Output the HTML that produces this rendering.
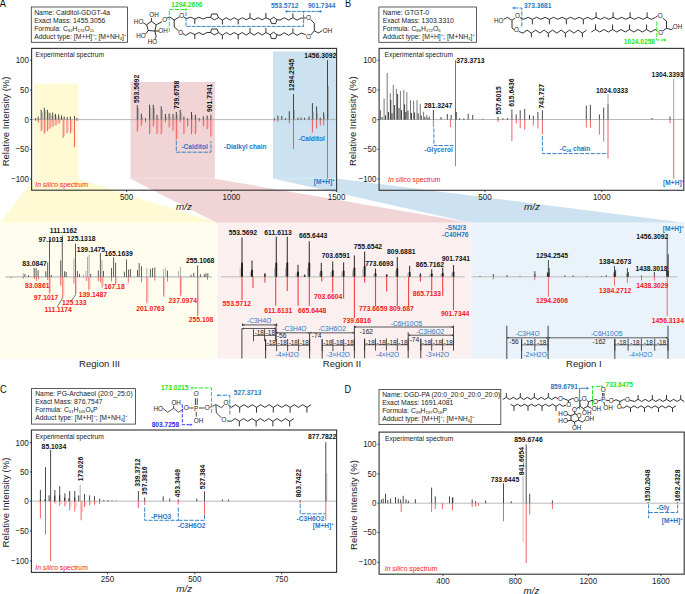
<!DOCTYPE html>
<html><head><meta charset="utf-8"><style>
html,body{margin:0;padding:0;background:#fff;}
svg{display:block;font-family:"Liberation Sans",sans-serif;}
</style></head><body>
<svg width="685" height="594" viewBox="0 0 685 594">
<rect x="0" y="0" width="685" height="594" fill="#ffffff"/>
<polygon points="34,178.8 78.1,178.8 216.7,222.7 0,222.7" fill="#fffad3"/>
<rect x="34" y="83.6" width="44.1" height="95.2" fill="#fffad3"/>
<polygon points="130.5,178.7 214.9,178.7 470.6,222.7 216.7,222.7" fill="#f1d4d6"/>
<rect x="130.5" y="81.9" width="84.4" height="96.8" fill="#f1d4d6"/>
<polygon points="273,178.5 336.6,178.5 685,222.7 470.6,222.7" fill="#cce2f1"/>
<rect x="273" y="51.4" width="63.6" height="127.1" fill="#cce2f1"/>
<rect x="0" y="222.7" width="216.1" height="135.9" fill="#fffdee"/>
<rect x="217.2" y="222.7" width="253.3" height="135.9" fill="#fbefef"/>
<rect x="471" y="222.7" width="214" height="136.2" fill="#ebf3fa"/>
<text x="0" y="0" transform="translate(-0.2 6.8) scale(1 1.28)" font-size="9.2" fill="#111">A</text>
<rect x="31.3" y="7" width="96.2" height="35.3" fill="white" stroke="#333" stroke-width="0.8"/>
<text x="34.2" y="15.2" font-size="6.8" fill="#1a1a1a">Name: Calditol-GDGT-4a</text>
<text x="34.2" y="23.05" font-size="6.8" fill="#1a1a1a">Exact Mass: 1455.3056</text>
<text x="34.2" y="30.9" font-size="6.8" fill="#1a1a1a">Formula: C<tspan font-size="4.2" baseline-shift="-1.3">92</tspan>H<tspan font-size="4.2" baseline-shift="-1.3">174</tspan>O<tspan font-size="4.2" baseline-shift="-1.3">11</tspan></text>
<text x="34.2" y="38.75" font-size="6.8" fill="#1a1a1a">Adduct type: [M+H]<tspan font-size="4.2" baseline-shift="2.6">+</tspan>; [M+NH<tspan font-size="4.2" baseline-shift="-1.3">4</tspan>]<tspan font-size="4.2" baseline-shift="2.6">+</tspan></text>
<polyline points="151.4,21.3 156.2,24.8 154.9,31 148.3,30.5 146.6,24.8 151.4,21.3" fill="none" stroke="#1c1c1c" stroke-width="0.9" stroke-linejoin="round"/>
<line x1="151.4" y1="21.3" x2="151.4" y2="18" stroke="#1c1c1c" stroke-width="0.9"/>
<text x="154" y="16.67" font-size="6.3" fill="#1a1a1a" text-anchor="middle">OH</text>
<line x1="146.6" y1="24.8" x2="143.3" y2="23" stroke="#1c1c1c" stroke-width="0.9"/>
<text x="138.6" y="24.07" font-size="6.3" fill="#1a1a1a" text-anchor="middle">HO</text>
<line x1="148.3" y1="30.5" x2="145.6" y2="34" stroke="#1c1c1c" stroke-width="0.9"/>
<text x="140.9" y="38.47" font-size="6.3" fill="#1a1a1a" text-anchor="middle">HO</text>
<line x1="154.9" y1="31" x2="159.2" y2="31" stroke="#1c1c1c" stroke-width="0.9"/>
<text x="163" y="32.77" font-size="6.3" fill="#1a1a1a" text-anchor="middle">OH</text>
<line x1="154.9" y1="31" x2="156.2" y2="36.7" stroke="#1c1c1c" stroke-width="0.9"/>
<line x1="156.2" y1="36.7" x2="155" y2="38.8" stroke="#1c1c1c" stroke-width="0.9"/>
<text x="152.4" y="44.17" font-size="6.3" fill="#1a1a1a" text-anchor="middle">HO</text>
<line x1="156.2" y1="24.8" x2="162" y2="21.6" stroke="#1c1c1c" stroke-width="0.9"/>
<text x="164.6" y="21.87" font-size="6.3" fill="#1a1a1a" text-anchor="middle">O</text>
<polyline points="166.8,18.2 169.8,17 174.2,20 179.2,17 179.6,16.8" fill="none" stroke="#1c1c1c" stroke-width="0.9" stroke-linejoin="round"/>
<polyline points="174.2,20 174.2,27 178.6,30.8" fill="none" stroke="#1c1c1c" stroke-width="0.9" stroke-linejoin="round"/>
<text x="181.6" y="17.87" font-size="6.3" fill="#1a1a1a" text-anchor="middle">O</text>
<text x="180.6" y="34.57" font-size="6.3" fill="#1a1a1a" text-anchor="middle">O</text>
<polyline points="183.6,16.8 186.2,18.7 190.6,17.2 194.8,19 198.9,17.2 203,19 207.1,17.4 210.8,17.4" fill="none" stroke="#1c1c1c" stroke-width="0.9" stroke-linejoin="round"/>
<line x1="194.8" y1="19" x2="194.8" y2="23.8" stroke="#1c1c1c" stroke-width="0.9"/>
<polyline points="211.6,14 217,14 218.5,17.6 214.4,19.9 210.6,17.4 211.6,14" fill="none" stroke="#1c1c1c" stroke-width="0.9" stroke-linejoin="round"/>
<polyline points="218.5,17.6 222.4,20.1 226.3,17.7 230.2,20.1 234.2,17.7 238.2,20.1 242.3,17.7 246.2,19.8 250,17.7 254.1,19.8 258.2,17.7 262.1,19.8 265.9,17.7 269.9,19.6" fill="none" stroke="#1c1c1c" stroke-width="0.9" stroke-linejoin="round"/>
<line x1="222.4" y1="20.1" x2="222.4" y2="24.4" stroke="#1c1c1c" stroke-width="0.9"/>
<line x1="238.2" y1="20.1" x2="238.2" y2="24.4" stroke="#1c1c1c" stroke-width="0.9"/>
<line x1="250" y1="17.7" x2="250" y2="13" stroke="#1c1c1c" stroke-width="0.9"/>
<line x1="265.9" y1="17.7" x2="265.9" y2="13" stroke="#1c1c1c" stroke-width="0.9"/>
<polyline points="273.6,17.2 277,19.7 275.7,23.6 271.5,23.6 270.1,19.7 273.6,17.2" fill="none" stroke="#1c1c1c" stroke-width="0.9" stroke-linejoin="round"/>
<polyline points="277,19.7 280,20.1 284.3,17.7 288.6,20.1 292.9,17.7 297.1,20.1 301.2,18 305.8,18" fill="none" stroke="#1c1c1c" stroke-width="0.9" stroke-linejoin="round"/>
<line x1="292.9" y1="17.7" x2="292.9" y2="13.4" stroke="#1c1c1c" stroke-width="0.9"/>
<text x="308.4" y="20.47" font-size="6.3" fill="#1a1a1a" text-anchor="middle">O</text>
<polyline points="182.6,33.4 185.7,35.4 190.3,32.5 194.8,34.6 198.9,32.5 203,34.6 207.1,32.5 210.8,32.5" fill="none" stroke="#1c1c1c" stroke-width="0.9" stroke-linejoin="round"/>
<line x1="194.8" y1="34.6" x2="194.8" y2="38.9" stroke="#1c1c1c" stroke-width="0.9"/>
<polyline points="211.6,29 217,29 218.5,32.6 214.4,34.9 210.6,32.5 211.6,29" fill="none" stroke="#1c1c1c" stroke-width="0.9" stroke-linejoin="round"/>
<polyline points="218.5,32.6 222.4,35.1 226.3,32.5 230.2,34.9 234.2,32.5 238.2,34.9 242.3,32.5 246.2,35.1 250,32.5 254.1,35.1 258.2,32.5 262.1,35.1 265.9,32.5 269.9,34.6" fill="none" stroke="#1c1c1c" stroke-width="0.9" stroke-linejoin="round"/>
<line x1="222.4" y1="35" x2="222.4" y2="39.3" stroke="#1c1c1c" stroke-width="0.9"/>
<line x1="238.2" y1="35" x2="238.2" y2="39.3" stroke="#1c1c1c" stroke-width="0.9"/>
<line x1="250" y1="32.5" x2="250" y2="27.9" stroke="#1c1c1c" stroke-width="0.9"/>
<line x1="265.9" y1="32.5" x2="265.9" y2="27.9" stroke="#1c1c1c" stroke-width="0.9"/>
<polyline points="273.6,32.2 277,34.7 275.7,38.6 271.5,38.6 270.1,34.7 273.6,32.2" fill="none" stroke="#1c1c1c" stroke-width="0.9" stroke-linejoin="round"/>
<polyline points="277,34.7 280,35.4 284.3,32.7 288.6,35.4 292.9,32.7 297.1,35.4 301.2,33 305.6,34.6" fill="none" stroke="#1c1c1c" stroke-width="0.9" stroke-linejoin="round"/>
<line x1="292.9" y1="32.7" x2="292.9" y2="28.4" stroke="#1c1c1c" stroke-width="0.9"/>
<text x="308.4" y="39.07" font-size="6.3" fill="#1a1a1a" text-anchor="middle">O</text>
<polyline points="310.6,19.6 314.3,23.2 314.3,30.8 310.8,35" fill="none" stroke="#1c1c1c" stroke-width="0.9" stroke-linejoin="round"/>
<polyline points="314.3,30.8 318.6,33 322.4,30.4" fill="none" stroke="#1c1c1c" stroke-width="0.9" stroke-linejoin="round"/>
<text x="327.6" y="33.27" font-size="6.3" fill="#1a1a1a" text-anchor="middle">OH</text>
<polyline points="169.3,31.8 169.3,9.5 185.6,9.5" fill="none" stroke="#18e818" stroke-width="0.95" stroke-linejoin="round" stroke-dasharray="4.2,1.4"/>
<polygon points="187.8,9.5 185.4,8.06 185.4,10.94" fill="#18e818"/>
<text x="171.3" y="7" font-size="6.6" fill="#18e818" font-weight="bold">1294.2606</text>
<polyline points="186,12.1 186,26.4 303.6,26.4 303.6,11.4" fill="none" stroke="#1f78c4" stroke-width="0.9" stroke-linejoin="round" stroke-dasharray="4,1.0"/>
<polyline points="287,11.4 320,11.4" fill="none" stroke="#1f78c4" stroke-width="0.9" stroke-linejoin="round" stroke-dasharray="4,0.9"/>
<polygon points="284.9,11.4 287.3,9.96 287.3,12.84" fill="#1f78c4"/>
<polygon points="322.2,11.4 319.8,9.96 319.8,12.84" fill="#1f78c4"/>
<text x="270.9" y="8.4" font-size="6.6" fill="#1f78c4" font-weight="bold">553.5712</text>
<text x="307.9" y="8.4" font-size="6.6" fill="#1f78c4" font-weight="bold">901.7344</text>
<line x1="31.6" y1="119.6" x2="336.6" y2="119.6" stroke="#a8a8a8" stroke-width="0.8"/>
<text x="35.6" y="56.8" font-size="6.7" fill="#1a1a1a">Experimental spectrum</text>
<text x="35.3" y="186.8" font-size="6.8" fill="#f81818"><tspan font-style="italic">In silico</tspan> spectrum</text>
<line x1="35.6" y1="119.6" x2="35.6" y2="118" stroke="#1c1c1c" stroke-width="0.8"/>
<line x1="38.2" y1="119.6" x2="38.2" y2="116.7" stroke="#1c1c1c" stroke-width="0.8"/>
<line x1="41.2" y1="119.6" x2="41.2" y2="109.8" stroke="#1c1c1c" stroke-width="0.8"/>
<line x1="44.3" y1="119.6" x2="44.3" y2="107.8" stroke="#1c1c1c" stroke-width="0.8"/>
<line x1="47.4" y1="119.6" x2="47.4" y2="109.8" stroke="#1c1c1c" stroke-width="0.8"/>
<line x1="49.9" y1="119.6" x2="49.9" y2="112.9" stroke="#1c1c1c" stroke-width="0.8"/>
<line x1="52.7" y1="119.6" x2="52.7" y2="112.6" stroke="#1c1c1c" stroke-width="0.8"/>
<line x1="55.5" y1="119.6" x2="55.5" y2="113.9" stroke="#1c1c1c" stroke-width="0.8"/>
<line x1="58.6" y1="119.6" x2="58.6" y2="114.4" stroke="#1c1c1c" stroke-width="0.8"/>
<line x1="61.5" y1="119.6" x2="61.5" y2="115.4" stroke="#1c1c1c" stroke-width="0.8"/>
<line x1="64.2" y1="119.6" x2="64.2" y2="116.5" stroke="#1c1c1c" stroke-width="0.8"/>
<line x1="67.3" y1="119.6" x2="67.3" y2="117" stroke="#1c1c1c" stroke-width="0.8"/>
<line x1="70.4" y1="119.6" x2="70.4" y2="116.5" stroke="#1c1c1c" stroke-width="0.8"/>
<line x1="74.5" y1="119.6" x2="74.5" y2="116" stroke="#1c1c1c" stroke-width="0.8"/>
<line x1="77" y1="119.6" x2="77" y2="118" stroke="#1c1c1c" stroke-width="0.8"/>
<line x1="39.5" y1="119.6" x2="39.5" y2="119.2" stroke="#9a9a9a" stroke-width="0.7"/>
<line x1="42.5" y1="119.6" x2="42.5" y2="112.3" stroke="#9a9a9a" stroke-width="0.7"/>
<line x1="45.6" y1="119.6" x2="45.6" y2="110.3" stroke="#9a9a9a" stroke-width="0.7"/>
<line x1="48.7" y1="119.6" x2="48.7" y2="112.3" stroke="#9a9a9a" stroke-width="0.7"/>
<line x1="51.2" y1="119.6" x2="51.2" y2="115.4" stroke="#9a9a9a" stroke-width="0.7"/>
<line x1="54" y1="119.6" x2="54" y2="115.1" stroke="#9a9a9a" stroke-width="0.7"/>
<line x1="56.8" y1="119.6" x2="56.8" y2="116.4" stroke="#9a9a9a" stroke-width="0.7"/>
<line x1="59.9" y1="119.6" x2="59.9" y2="116.9" stroke="#9a9a9a" stroke-width="0.7"/>
<line x1="62.8" y1="119.6" x2="62.8" y2="117.9" stroke="#9a9a9a" stroke-width="0.7"/>
<line x1="65.5" y1="119.6" x2="65.5" y2="119" stroke="#9a9a9a" stroke-width="0.7"/>
<line x1="68.6" y1="119.6" x2="68.6" y2="119.5" stroke="#9a9a9a" stroke-width="0.7"/>
<line x1="71.7" y1="119.6" x2="71.7" y2="119" stroke="#9a9a9a" stroke-width="0.7"/>
<line x1="75.8" y1="119.6" x2="75.8" y2="118.5" stroke="#9a9a9a" stroke-width="0.7"/>
<line x1="78.3" y1="119.6" x2="78.3" y2="120.5" stroke="#9a9a9a" stroke-width="0.7"/>
<line x1="35.6" y1="119.6" x2="35.6" y2="120.8" stroke="#ee3b3b" stroke-width="0.8"/>
<line x1="38.2" y1="119.6" x2="38.2" y2="122.6" stroke="#ee3b3b" stroke-width="0.8"/>
<line x1="41.2" y1="119.6" x2="41.2" y2="131.3" stroke="#ee3b3b" stroke-width="0.8"/>
<line x1="44.3" y1="119.6" x2="44.3" y2="133.8" stroke="#ee3b3b" stroke-width="0.8"/>
<line x1="47.4" y1="119.6" x2="47.4" y2="131.3" stroke="#ee3b3b" stroke-width="0.8"/>
<line x1="50.1" y1="119.6" x2="50.1" y2="128.7" stroke="#ee3b3b" stroke-width="0.8"/>
<line x1="53" y1="119.6" x2="53" y2="126.7" stroke="#ee3b3b" stroke-width="0.8"/>
<line x1="56" y1="119.6" x2="56" y2="125.7" stroke="#ee3b3b" stroke-width="0.8"/>
<line x1="59.1" y1="119.6" x2="59.1" y2="123.6" stroke="#ee3b3b" stroke-width="0.8"/>
<line x1="63.2" y1="119.6" x2="63.2" y2="137.9" stroke="#ee3b3b" stroke-width="0.8"/>
<line x1="67" y1="119.6" x2="67" y2="133.3" stroke="#ee3b3b" stroke-width="0.8"/>
<line x1="70.6" y1="119.6" x2="70.6" y2="133.3" stroke="#ee3b3b" stroke-width="0.8"/>
<line x1="74.5" y1="119.6" x2="74.5" y2="147.1" stroke="#ee3b3b" stroke-width="0.8"/>
<line x1="76.8" y1="119.6" x2="76.8" y2="120.8" stroke="#ee3b3b" stroke-width="0.8"/>
<line x1="42.4" y1="119.6" x2="42.4" y2="129.8" stroke="#f6a3a3" stroke-width="0.7"/>
<line x1="45.5" y1="119.6" x2="45.5" y2="132.3" stroke="#f6a3a3" stroke-width="0.7"/>
<line x1="48.6" y1="119.6" x2="48.6" y2="129.8" stroke="#f6a3a3" stroke-width="0.7"/>
<line x1="51.3" y1="119.6" x2="51.3" y2="127.2" stroke="#f6a3a3" stroke-width="0.7"/>
<line x1="54.2" y1="119.6" x2="54.2" y2="125.2" stroke="#f6a3a3" stroke-width="0.7"/>
<line x1="57.2" y1="119.6" x2="57.2" y2="124.2" stroke="#f6a3a3" stroke-width="0.7"/>
<line x1="60.3" y1="119.6" x2="60.3" y2="122.1" stroke="#f6a3a3" stroke-width="0.7"/>
<line x1="64.4" y1="119.6" x2="64.4" y2="136.4" stroke="#f6a3a3" stroke-width="0.7"/>
<line x1="68.2" y1="119.6" x2="68.2" y2="131.8" stroke="#f6a3a3" stroke-width="0.7"/>
<line x1="71.8" y1="119.6" x2="71.8" y2="131.8" stroke="#f6a3a3" stroke-width="0.7"/>
<line x1="82" y1="119.6" x2="82" y2="118.8" stroke="#9a9a9a" stroke-width="0.6"/>
<line x1="86" y1="119.6" x2="86" y2="118.8" stroke="#9a9a9a" stroke-width="0.6"/>
<line x1="90" y1="119.6" x2="90" y2="118.8" stroke="#9a9a9a" stroke-width="0.6"/>
<line x1="95" y1="119.6" x2="95" y2="118.8" stroke="#9a9a9a" stroke-width="0.6"/>
<line x1="100" y1="119.6" x2="100" y2="118.8" stroke="#9a9a9a" stroke-width="0.6"/>
<line x1="117" y1="119.6" x2="117" y2="118.8" stroke="#9a9a9a" stroke-width="0.6"/>
<line x1="121" y1="119.6" x2="121" y2="118.8" stroke="#9a9a9a" stroke-width="0.6"/>
<line x1="125" y1="119.6" x2="125" y2="118.8" stroke="#9a9a9a" stroke-width="0.6"/>
<line x1="137.3" y1="119.6" x2="137.3" y2="105.2" stroke="#1c1c1c" stroke-width="0.8"/>
<line x1="141.3" y1="119.6" x2="141.3" y2="113.6" stroke="#1c1c1c" stroke-width="0.8"/>
<line x1="145.5" y1="119.6" x2="145.5" y2="118.2" stroke="#1c1c1c" stroke-width="0.8"/>
<line x1="149.6" y1="119.6" x2="149.6" y2="104.7" stroke="#1c1c1c" stroke-width="0.8"/>
<line x1="153.3" y1="119.6" x2="153.3" y2="104.7" stroke="#1c1c1c" stroke-width="0.8"/>
<line x1="157" y1="119.6" x2="157" y2="114.8" stroke="#1c1c1c" stroke-width="0.8"/>
<line x1="161.2" y1="119.6" x2="161.2" y2="106.4" stroke="#1c1c1c" stroke-width="0.8"/>
<line x1="165.4" y1="119.6" x2="165.4" y2="114" stroke="#1c1c1c" stroke-width="0.8"/>
<line x1="169.1" y1="119.6" x2="169.1" y2="113.6" stroke="#1c1c1c" stroke-width="0.8"/>
<line x1="173" y1="119.6" x2="173" y2="114" stroke="#1c1c1c" stroke-width="0.8"/>
<line x1="176.3" y1="119.6" x2="176.3" y2="112" stroke="#1c1c1c" stroke-width="0.8"/>
<line x1="180.2" y1="119.6" x2="180.2" y2="109.8" stroke="#1c1c1c" stroke-width="0.8"/>
<line x1="183.9" y1="119.6" x2="183.9" y2="116.5" stroke="#1c1c1c" stroke-width="0.8"/>
<line x1="187.6" y1="119.6" x2="187.6" y2="118.2" stroke="#1c1c1c" stroke-width="0.8"/>
<line x1="191.5" y1="119.6" x2="191.5" y2="112" stroke="#1c1c1c" stroke-width="0.8"/>
<line x1="195.4" y1="119.6" x2="195.4" y2="114.8" stroke="#1c1c1c" stroke-width="0.8"/>
<line x1="199.4" y1="119.6" x2="199.4" y2="118.2" stroke="#1c1c1c" stroke-width="0.8"/>
<line x1="203.3" y1="119.6" x2="203.3" y2="116.5" stroke="#1c1c1c" stroke-width="0.8"/>
<line x1="207.2" y1="119.6" x2="207.2" y2="115.7" stroke="#1c1c1c" stroke-width="0.8"/>
<line x1="210.9" y1="119.6" x2="210.9" y2="114.8" stroke="#1c1c1c" stroke-width="0.8"/>
<line x1="138.5" y1="119.6" x2="138.5" y2="108.2" stroke="#9a9a9a" stroke-width="0.7"/>
<line x1="142.5" y1="119.6" x2="142.5" y2="116.6" stroke="#9a9a9a" stroke-width="0.7"/>
<line x1="150.8" y1="119.6" x2="150.8" y2="107.7" stroke="#9a9a9a" stroke-width="0.7"/>
<line x1="154.5" y1="119.6" x2="154.5" y2="107.7" stroke="#9a9a9a" stroke-width="0.7"/>
<line x1="158.2" y1="119.6" x2="158.2" y2="117.8" stroke="#9a9a9a" stroke-width="0.7"/>
<line x1="162.4" y1="119.6" x2="162.4" y2="109.4" stroke="#9a9a9a" stroke-width="0.7"/>
<line x1="166.6" y1="119.6" x2="166.6" y2="117" stroke="#9a9a9a" stroke-width="0.7"/>
<line x1="170.3" y1="119.6" x2="170.3" y2="116.6" stroke="#9a9a9a" stroke-width="0.7"/>
<line x1="174.2" y1="119.6" x2="174.2" y2="117" stroke="#9a9a9a" stroke-width="0.7"/>
<line x1="177.5" y1="119.6" x2="177.5" y2="115" stroke="#9a9a9a" stroke-width="0.7"/>
<line x1="181.4" y1="119.6" x2="181.4" y2="112.8" stroke="#9a9a9a" stroke-width="0.7"/>
<line x1="192.7" y1="119.6" x2="192.7" y2="115" stroke="#9a9a9a" stroke-width="0.7"/>
<line x1="196.6" y1="119.6" x2="196.6" y2="117.8" stroke="#9a9a9a" stroke-width="0.7"/>
<line x1="208.4" y1="119.6" x2="208.4" y2="118.7" stroke="#9a9a9a" stroke-width="0.7"/>
<line x1="212.1" y1="119.6" x2="212.1" y2="117.8" stroke="#9a9a9a" stroke-width="0.7"/>
<line x1="137.3" y1="119.6" x2="137.3" y2="131.6" stroke="#ee3b3b" stroke-width="0.8"/>
<line x1="141.3" y1="119.6" x2="141.3" y2="125.8" stroke="#ee3b3b" stroke-width="0.8"/>
<line x1="145.5" y1="119.6" x2="145.5" y2="122.4" stroke="#ee3b3b" stroke-width="0.8"/>
<line x1="149.6" y1="119.6" x2="149.6" y2="134.2" stroke="#ee3b3b" stroke-width="0.8"/>
<line x1="153.3" y1="119.6" x2="153.3" y2="126.6" stroke="#ee3b3b" stroke-width="0.8"/>
<line x1="157" y1="119.6" x2="157" y2="134.2" stroke="#ee3b3b" stroke-width="0.8"/>
<line x1="161.2" y1="119.6" x2="161.2" y2="134.2" stroke="#ee3b3b" stroke-width="0.8"/>
<line x1="165.4" y1="119.6" x2="165.4" y2="122.4" stroke="#ee3b3b" stroke-width="0.8"/>
<line x1="169.1" y1="119.6" x2="169.1" y2="127.4" stroke="#ee3b3b" stroke-width="0.8"/>
<line x1="173" y1="119.6" x2="173" y2="130.8" stroke="#ee3b3b" stroke-width="0.8"/>
<line x1="176.3" y1="119.6" x2="176.3" y2="140" stroke="#ee3b3b" stroke-width="0.8"/>
<line x1="180.2" y1="119.6" x2="180.2" y2="122.4" stroke="#ee3b3b" stroke-width="0.8"/>
<line x1="183.9" y1="119.6" x2="183.9" y2="134.2" stroke="#ee3b3b" stroke-width="0.8"/>
<line x1="187.6" y1="119.6" x2="187.6" y2="126.6" stroke="#ee3b3b" stroke-width="0.8"/>
<line x1="191.5" y1="119.6" x2="191.5" y2="134.2" stroke="#ee3b3b" stroke-width="0.8"/>
<line x1="195.4" y1="119.6" x2="195.4" y2="134.2" stroke="#ee3b3b" stroke-width="0.8"/>
<line x1="199.4" y1="119.6" x2="199.4" y2="121.5" stroke="#ee3b3b" stroke-width="0.8"/>
<line x1="203.3" y1="119.6" x2="203.3" y2="126.6" stroke="#ee3b3b" stroke-width="0.8"/>
<line x1="207.2" y1="119.6" x2="207.2" y2="129.1" stroke="#ee3b3b" stroke-width="0.8"/>
<line x1="210.9" y1="119.6" x2="210.9" y2="136.7" stroke="#ee3b3b" stroke-width="0.8"/>
<line x1="138.5" y1="119.6" x2="138.5" y2="129.6" stroke="#f6a3a3" stroke-width="0.7"/>
<line x1="142.5" y1="119.6" x2="142.5" y2="123.8" stroke="#f6a3a3" stroke-width="0.7"/>
<line x1="150.8" y1="119.6" x2="150.8" y2="132.2" stroke="#f6a3a3" stroke-width="0.7"/>
<line x1="154.5" y1="119.6" x2="154.5" y2="124.6" stroke="#f6a3a3" stroke-width="0.7"/>
<line x1="158.2" y1="119.6" x2="158.2" y2="132.2" stroke="#f6a3a3" stroke-width="0.7"/>
<line x1="162.4" y1="119.6" x2="162.4" y2="132.2" stroke="#f6a3a3" stroke-width="0.7"/>
<line x1="170.3" y1="119.6" x2="170.3" y2="125.4" stroke="#f6a3a3" stroke-width="0.7"/>
<line x1="174.2" y1="119.6" x2="174.2" y2="128.8" stroke="#f6a3a3" stroke-width="0.7"/>
<line x1="177.5" y1="119.6" x2="177.5" y2="138" stroke="#f6a3a3" stroke-width="0.7"/>
<line x1="185.1" y1="119.6" x2="185.1" y2="132.2" stroke="#f6a3a3" stroke-width="0.7"/>
<line x1="188.8" y1="119.6" x2="188.8" y2="124.6" stroke="#f6a3a3" stroke-width="0.7"/>
<line x1="192.7" y1="119.6" x2="192.7" y2="132.2" stroke="#f6a3a3" stroke-width="0.7"/>
<line x1="196.6" y1="119.6" x2="196.6" y2="132.2" stroke="#f6a3a3" stroke-width="0.7"/>
<line x1="204.5" y1="119.6" x2="204.5" y2="124.6" stroke="#f6a3a3" stroke-width="0.7"/>
<line x1="208.4" y1="119.6" x2="208.4" y2="127.1" stroke="#f6a3a3" stroke-width="0.7"/>
<line x1="212.1" y1="119.6" x2="212.1" y2="134.7" stroke="#f6a3a3" stroke-width="0.7"/>
<line x1="224" y1="119.6" x2="224" y2="118.9" stroke="#9a9a9a" stroke-width="0.6"/>
<line x1="228" y1="119.6" x2="228" y2="118.9" stroke="#9a9a9a" stroke-width="0.6"/>
<line x1="250" y1="119.6" x2="250" y2="118.9" stroke="#9a9a9a" stroke-width="0.6"/>
<line x1="256" y1="119.6" x2="256" y2="118.9" stroke="#9a9a9a" stroke-width="0.6"/>
<line x1="262" y1="119.6" x2="262" y2="118.9" stroke="#9a9a9a" stroke-width="0.6"/>
<line x1="274.5" y1="119.6" x2="274.5" y2="118.2" stroke="#1c1c1c" stroke-width="0.8"/>
<line x1="277.9" y1="119.6" x2="277.9" y2="115.7" stroke="#1c1c1c" stroke-width="0.8"/>
<line x1="281.8" y1="119.6" x2="281.8" y2="116" stroke="#1c1c1c" stroke-width="0.8"/>
<line x1="285.5" y1="119.6" x2="285.5" y2="118.2" stroke="#1c1c1c" stroke-width="0.8"/>
<line x1="289.3" y1="119.6" x2="289.3" y2="111.2" stroke="#1c1c1c" stroke-width="0.8"/>
<line x1="293.5" y1="119.6" x2="293.5" y2="94.2" stroke="#1c1c1c" stroke-width="0.8"/>
<line x1="298" y1="119.6" x2="298" y2="117.7" stroke="#1c1c1c" stroke-width="0.8"/>
<line x1="301" y1="119.6" x2="301" y2="117.7" stroke="#1c1c1c" stroke-width="0.8"/>
<line x1="304.5" y1="119.6" x2="304.5" y2="117.7" stroke="#1c1c1c" stroke-width="0.8"/>
<line x1="309" y1="119.6" x2="309" y2="116.5" stroke="#1c1c1c" stroke-width="0.8"/>
<line x1="312.4" y1="119.6" x2="312.4" y2="103.1" stroke="#1c1c1c" stroke-width="0.8"/>
<line x1="316.6" y1="119.6" x2="316.6" y2="106.4" stroke="#1c1c1c" stroke-width="0.8"/>
<line x1="320.3" y1="119.6" x2="320.3" y2="117.7" stroke="#1c1c1c" stroke-width="0.8"/>
<line x1="323.7" y1="119.6" x2="323.7" y2="112.3" stroke="#1c1c1c" stroke-width="0.8"/>
<line x1="327.5" y1="119.6" x2="327.5" y2="60.2" stroke="#1c1c1c" stroke-width="0.8"/>
<line x1="328.4" y1="119.6" x2="328.4" y2="86.2" stroke="#9a9a9a" stroke-width="0.8"/>
<line x1="294.4" y1="119.6" x2="294.4" y2="110" stroke="#9a9a9a" stroke-width="0.8"/>
<line x1="313.3" y1="119.6" x2="313.3" y2="112" stroke="#9a9a9a" stroke-width="0.8"/>
<line x1="317.4" y1="119.6" x2="317.4" y2="113" stroke="#9a9a9a" stroke-width="0.8"/>
<line x1="324.5" y1="119.6" x2="324.5" y2="115" stroke="#9a9a9a" stroke-width="0.8"/>
<line x1="274.5" y1="119.6" x2="274.5" y2="120.8" stroke="#ee3b3b" stroke-width="0.8"/>
<line x1="277.9" y1="119.6" x2="277.9" y2="121.6" stroke="#ee3b3b" stroke-width="0.8"/>
<line x1="289.3" y1="119.6" x2="289.3" y2="123.3" stroke="#ee3b3b" stroke-width="0.8"/>
<line x1="293.5" y1="119.6" x2="293.5" y2="149" stroke="#ee3b3b" stroke-width="0.8"/>
<line x1="312.4" y1="119.6" x2="312.4" y2="132.5" stroke="#ee3b3b" stroke-width="0.8"/>
<line x1="316.6" y1="119.6" x2="316.6" y2="128.3" stroke="#ee3b3b" stroke-width="0.8"/>
<line x1="320.3" y1="119.6" x2="320.3" y2="125.5" stroke="#ee3b3b" stroke-width="0.8"/>
<line x1="323.7" y1="119.6" x2="323.7" y2="125.5" stroke="#ee3b3b" stroke-width="0.8"/>
<line x1="327.5" y1="119.6" x2="327.5" y2="178.7" stroke="#ee3b3b" stroke-width="0.8"/>
<text x="139.3" y="103.1" font-size="6.8" fill="#111" font-weight="bold" transform="rotate(-90 139.3 103.1)">553.5692</text>
<text x="178.7" y="109" font-size="6.8" fill="#111" font-weight="bold" transform="rotate(-90 178.7 109)">739.6758</text>
<text x="212.1" y="112" font-size="6.8" fill="#111" font-weight="bold" transform="rotate(-90 212.1 112)">901.7341</text>
<text x="294.1" y="90.9" font-size="6.8" fill="#111" font-weight="bold" transform="rotate(-90 294.1 90.9)">1294.2545</text>
<text x="336.4" y="58.2" font-size="6.8" fill="#111" font-weight="bold" text-anchor="end">1456.3092</text>
<text x="311.6" y="140.5" font-size="6.6" fill="#1f78c4" font-weight="bold" text-anchor="middle">-Calditol</text>
<text x="245.3" y="149.2" font-size="6.6" fill="#1f78c4" font-weight="bold" text-anchor="middle">-Dialkyl chain</text>
<text x="194.6" y="149.4" font-size="6.6" fill="#1f78c4" font-weight="bold" text-anchor="middle">-Calditol</text>
<polyline points="176.3,141 176.3,152.2 211,152.2 211,141" fill="none" stroke="#1f78c4" stroke-width="0.9" stroke-linejoin="round" stroke-dasharray="4.2,1.3"/>
<text x="324.2" y="184.4" font-size="6.6" fill="#1f78c4" font-weight="bold" text-anchor="middle">[M+H]<tspan font-size="4.2" baseline-shift="2.6">+</tspan></text>
<rect x="31.6" y="48.4" width="305" height="141.8" fill="none" stroke="#383838" stroke-width="1.15"/>
<line x1="30" y1="60.3" x2="31.6" y2="60.3" stroke="#1c1c1c" stroke-width="0.8"/>
<text x="0" y="0" transform="translate(29 63.2) scale(1 1.15)" font-size="8" fill="#222" text-anchor="end">100</text>
<line x1="30" y1="90" x2="31.6" y2="90" stroke="#1c1c1c" stroke-width="0.8"/>
<text x="0" y="0" transform="translate(29 92.9) scale(1 1.15)" font-size="8" fill="#222" text-anchor="end">50</text>
<line x1="30" y1="119.6" x2="31.6" y2="119.6" stroke="#1c1c1c" stroke-width="0.8"/>
<text x="0" y="0" transform="translate(29 122.5) scale(1 1.15)" font-size="8" fill="#222" text-anchor="end">0</text>
<line x1="30" y1="149.3" x2="31.6" y2="149.3" stroke="#1c1c1c" stroke-width="0.8"/>
<text x="0" y="0" transform="translate(29 152.2) scale(1 1.15)" font-size="8" fill="#222" text-anchor="end">−50</text>
<line x1="30" y1="179" x2="31.6" y2="179" stroke="#1c1c1c" stroke-width="0.8"/>
<text x="0" y="0" transform="translate(29 181.9) scale(1 1.15)" font-size="8" fill="#222" text-anchor="end">−100</text>
<line x1="126.6" y1="190.2" x2="126.6" y2="192" stroke="#1c1c1c" stroke-width="0.8"/>
<text x="0" y="0" transform="translate(126.6 200) scale(1 1.15)" font-size="8" fill="#222" text-anchor="middle">500</text>
<line x1="231.4" y1="190.2" x2="231.4" y2="192" stroke="#1c1c1c" stroke-width="0.8"/>
<text x="0" y="0" transform="translate(231.4 200) scale(1 1.15)" font-size="8" fill="#222" text-anchor="middle">1000</text>
<line x1="336.6" y1="190.2" x2="336.6" y2="192" stroke="#1c1c1c" stroke-width="0.8"/>
<text x="0" y="0" transform="translate(336.6 200) scale(1 1.15)" font-size="8" fill="#222" text-anchor="middle">1500</text>
<text x="184" y="209.6" font-size="9.8" fill="#222" text-anchor="middle" font-style="italic">m/z</text>
<text x="9" y="121.4" font-size="9.5" fill="#222" text-anchor="middle" transform="rotate(-90 9 121.4)">Relative Intensity (%)</text>
<text x="0" y="0" transform="translate(345 6.9) scale(1 1.28)" font-size="9.2" fill="#111">B</text>
<rect x="378.9" y="7" width="97.6" height="35.3" fill="white" stroke="#333" stroke-width="0.8"/>
<text x="382.7" y="15.2" font-size="6.8" fill="#1a1a1a">Name: GTGT-0</text>
<text x="382.7" y="23.05" font-size="6.8" fill="#1a1a1a">Exact Mass: 1303.3310</text>
<text x="382.7" y="30.9" font-size="6.8" fill="#1a1a1a">Formula: C<tspan font-size="4.2" baseline-shift="-1.3">86</tspan>H<tspan font-size="4.2" baseline-shift="-1.3">172</tspan>O<tspan font-size="4.2" baseline-shift="-1.3">6</tspan></text>
<text x="382.7" y="38.75" font-size="6.8" fill="#1a1a1a">Adduct type: [M+H]<tspan font-size="4.2" baseline-shift="2.6">+</tspan>; [M+NH<tspan font-size="4.2" baseline-shift="-1.3">4</tspan>]<tspan font-size="4.2" baseline-shift="2.6">+</tspan></text>
<text x="498.7" y="22.57" font-size="6.3" fill="#1a1a1a" text-anchor="middle">HO</text>
<polyline points="503.6,19.4 507.4,17.3 512,20.3 515.2,18" fill="none" stroke="#1c1c1c" stroke-width="0.9" stroke-linejoin="round"/>
<polyline points="512,20.3 512,28 514.4,29.8" fill="none" stroke="#1c1c1c" stroke-width="0.9" stroke-linejoin="round"/>
<text x="517.4" y="18.07" font-size="6.3" fill="#1a1a1a" text-anchor="middle">O</text>
<text x="516.4" y="32.47" font-size="6.3" fill="#1a1a1a" text-anchor="middle">O</text>
<polyline points="519.8,17.6 523.85,19.3 528.1,17.3 532.35,19.3 536.6,17.3 540.85,19.3 545.1,17.3 549.35,19.3 553.6,17.3 557.85,19.3 562.1,17.3 566.35,19.3 570.6,17.3 574.85,19.3 579.1,17.3 583.35,19.3 587.6,17.3 591.85,19.3 596.1,17.3 600.35,19.3 604.6,17.3 608.85,19.3 613.1,17.3 617.35,19.3 621.6,17.3 625.85,19.3 630.1,17.3 634.35,19.3 638.6,17.3 642.85,19.3 647.1,17.3 651.35,19.3 655.6,17.3 657.6,15.8" fill="none" stroke="#1c1c1c" stroke-width="0.9" stroke-linejoin="round"/>
<line x1="532.35" y1="19.3" x2="532.35" y2="24.3" stroke="#1c1c1c" stroke-width="0.9"/>
<line x1="549.35" y1="19.3" x2="549.35" y2="24.3" stroke="#1c1c1c" stroke-width="0.9"/>
<line x1="566.35" y1="19.3" x2="566.35" y2="24.3" stroke="#1c1c1c" stroke-width="0.9"/>
<line x1="583.35" y1="19.3" x2="583.35" y2="24.3" stroke="#1c1c1c" stroke-width="0.9"/>
<line x1="596.1" y1="17.3" x2="596.1" y2="12.3" stroke="#1c1c1c" stroke-width="0.9"/>
<line x1="613.1" y1="17.3" x2="613.1" y2="12.3" stroke="#1c1c1c" stroke-width="0.9"/>
<line x1="630.1" y1="17.3" x2="630.1" y2="12.3" stroke="#1c1c1c" stroke-width="0.9"/>
<line x1="647.1" y1="17.3" x2="647.1" y2="12.3" stroke="#1c1c1c" stroke-width="0.9"/>
<polyline points="518.8,31.4 522.85,33.1 527.1,30.1 531.35,33.1 535.6,30.1 539.85,33.1 544.1,30.1 548.35,33.1 552.6,30.1 556.85,33.1 561.1,30.1 565.35,33.1 569.6,30.1 573.85,33.1 578.1,30.1 582.35,33.1 586.6,30.1" fill="none" stroke="#1c1c1c" stroke-width="0.9" stroke-linejoin="round"/>
<line x1="531.35" y1="33.1" x2="531.35" y2="37.3" stroke="#1c1c1c" stroke-width="0.9"/>
<line x1="548.35" y1="33.1" x2="548.35" y2="37.3" stroke="#1c1c1c" stroke-width="0.9"/>
<line x1="565.35" y1="33.1" x2="565.35" y2="37.3" stroke="#1c1c1c" stroke-width="0.9"/>
<line x1="582.35" y1="33.1" x2="582.35" y2="37.3" stroke="#1c1c1c" stroke-width="0.9"/>
<polyline points="591.3,32 595.55,29.5 599.8,32 604.05,29.5 608.3,32 612.55,29.5 616.8,32 621.05,29.5 625.3,32 629.55,29.5 633.8,32 638.05,29.5 642.3,32 646.55,29.5 650.8,32 655.05,29.5 657.6,31.2" fill="none" stroke="#1c1c1c" stroke-width="0.9" stroke-linejoin="round"/>
<line x1="595.55" y1="29.5" x2="595.55" y2="24.5" stroke="#1c1c1c" stroke-width="0.9"/>
<line x1="612.55" y1="29.5" x2="612.55" y2="24.5" stroke="#1c1c1c" stroke-width="0.9"/>
<line x1="629.55" y1="29.5" x2="629.55" y2="24.5" stroke="#1c1c1c" stroke-width="0.9"/>
<line x1="646.55" y1="29.5" x2="646.55" y2="24.5" stroke="#1c1c1c" stroke-width="0.9"/>
<text x="660.3" y="18.37" font-size="6.3" fill="#1a1a1a" text-anchor="middle">O</text>
<text x="660.6" y="34.77" font-size="6.3" fill="#1a1a1a" text-anchor="middle">O</text>
<polyline points="662.7,18.2 666.5,21.1 666.5,28.2 663,30.8" fill="none" stroke="#1c1c1c" stroke-width="0.9" stroke-linejoin="round"/>
<polyline points="666.5,28.2 671.2,29.6 673,28.4" fill="none" stroke="#1c1c1c" stroke-width="0.9" stroke-linejoin="round"/>
<text x="677.6" y="29.27" font-size="6.3" fill="#1a1a1a" text-anchor="middle">OH</text>
<polyline points="521.8,26.5 521.8,8 514.6,8" fill="none" stroke="#1f78c4" stroke-width="0.9" stroke-linejoin="round" stroke-dasharray="4.2,1.3"/>
<polygon points="512.2,8 514.6,6.56 514.6,9.44" fill="#1f78c4"/>
<text x="523.9" y="8.4" font-size="6.6" fill="#1f78c4" font-weight="bold">373.3681</text>
<polyline points="656.8,21.6 656.8,40 664.2,40" fill="none" stroke="#18e818" stroke-width="0.95" stroke-linejoin="round" stroke-dasharray="4.2,1.4"/>
<polygon points="666.5,40 664.1,38.56 664.1,41.44" fill="#18e818"/>
<text x="623.8" y="44.3" font-size="6.6" fill="#18e818" font-weight="bold">1024.0258</text>
<line x1="379.1" y1="119.5" x2="683.8" y2="119.5" stroke="#a8a8a8" stroke-width="0.8"/>
<text x="384.6" y="56.8" font-size="6.7" fill="#1a1a1a">Experimental spectrum</text>
<text x="388" y="182" font-size="6.8" fill="#f81818"><tspan font-style="italic">In silico</tspan> spectrum</text>
<line x1="380.5" y1="119.5" x2="380.5" y2="110" stroke="#555" stroke-width="0.8"/>
<line x1="384.1" y1="119.5" x2="384.1" y2="98.6" stroke="#555" stroke-width="0.8"/>
<line x1="387.2" y1="119.5" x2="387.2" y2="72.9" stroke="#555" stroke-width="0.8"/>
<line x1="390.3" y1="119.5" x2="390.3" y2="93.1" stroke="#555" stroke-width="0.8"/>
<line x1="393.3" y1="119.5" x2="393.3" y2="84.9" stroke="#555" stroke-width="0.8"/>
<line x1="396.4" y1="119.5" x2="396.4" y2="88.8" stroke="#555" stroke-width="0.8"/>
<line x1="400.4" y1="119.5" x2="400.4" y2="90.9" stroke="#555" stroke-width="0.8"/>
<line x1="403.8" y1="119.5" x2="403.8" y2="89.8" stroke="#555" stroke-width="0.8"/>
<line x1="406.8" y1="119.5" x2="406.8" y2="92.1" stroke="#555" stroke-width="0.8"/>
<line x1="410.5" y1="119.5" x2="410.5" y2="100.2" stroke="#555" stroke-width="0.8"/>
<line x1="413.6" y1="119.5" x2="413.6" y2="100.8" stroke="#555" stroke-width="0.8"/>
<line x1="417" y1="119.5" x2="417" y2="100.2" stroke="#555" stroke-width="0.8"/>
<line x1="420.3" y1="119.5" x2="420.3" y2="103.9" stroke="#555" stroke-width="0.8"/>
<line x1="423.6" y1="119.5" x2="423.6" y2="111.7" stroke="#555" stroke-width="0.8"/>
<line x1="426.7" y1="119.5" x2="426.7" y2="114.9" stroke="#555" stroke-width="0.8"/>
<line x1="429.5" y1="119.5" x2="429.5" y2="116.4" stroke="#555" stroke-width="0.8"/>
<line x1="382" y1="119.5" x2="382" y2="117" stroke="#111" stroke-width="0.8"/>
<line x1="385.5" y1="119.5" x2="385.5" y2="115.5" stroke="#111" stroke-width="0.8"/>
<line x1="388.5" y1="119.5" x2="388.5" y2="112" stroke="#111" stroke-width="0.8"/>
<line x1="390.8" y1="119.5" x2="390.8" y2="99.9" stroke="#111" stroke-width="0.8"/>
<line x1="392" y1="119.5" x2="392" y2="113" stroke="#111" stroke-width="0.8"/>
<line x1="394.6" y1="119.5" x2="394.6" y2="105" stroke="#111" stroke-width="0.8"/>
<line x1="397.6" y1="119.5" x2="397.6" y2="94.1" stroke="#111" stroke-width="0.8"/>
<line x1="399" y1="119.5" x2="399" y2="108" stroke="#111" stroke-width="0.8"/>
<line x1="401.5" y1="119.5" x2="401.5" y2="110" stroke="#111" stroke-width="0.8"/>
<line x1="404.6" y1="119.5" x2="404.6" y2="104.5" stroke="#111" stroke-width="0.8"/>
<line x1="405.8" y1="119.5" x2="405.8" y2="112" stroke="#111" stroke-width="0.8"/>
<line x1="408" y1="119.5" x2="408" y2="110.5" stroke="#111" stroke-width="0.8"/>
<line x1="411.5" y1="119.5" x2="411.5" y2="113" stroke="#111" stroke-width="0.8"/>
<line x1="414.6" y1="119.5" x2="414.6" y2="112.5" stroke="#111" stroke-width="0.8"/>
<line x1="418.2" y1="119.5" x2="418.2" y2="113.5" stroke="#111" stroke-width="0.8"/>
<line x1="421.3" y1="119.5" x2="421.3" y2="115.5" stroke="#111" stroke-width="0.8"/>
<line x1="424.8" y1="119.5" x2="424.8" y2="116.8" stroke="#111" stroke-width="0.8"/>
<line x1="427.9" y1="119.5" x2="427.9" y2="117.6" stroke="#111" stroke-width="0.8"/>
<line x1="433.4" y1="119.5" x2="433.4" y2="110" stroke="#111" stroke-width="0.8"/>
<line x1="441" y1="119.5" x2="441" y2="117" stroke="#111" stroke-width="0.8"/>
<line x1="447.3" y1="119.5" x2="447.3" y2="114" stroke="#111" stroke-width="0.8"/>
<line x1="451.1" y1="119.5" x2="451.1" y2="115" stroke="#111" stroke-width="0.8"/>
<line x1="455.5" y1="119.5" x2="455.5" y2="107.8" stroke="#111" stroke-width="0.8"/>
<line x1="455.5" y1="119.5" x2="455.5" y2="60.2" stroke="#666" stroke-width="0.9"/>
<line x1="456.3" y1="119.5" x2="456.3" y2="112" stroke="#1c1c1c" stroke-width="0.8"/>
<line x1="459.6" y1="119.5" x2="459.6" y2="118.2" stroke="#1c1c1c" stroke-width="0.8"/>
<line x1="463.9" y1="119.5" x2="463.9" y2="118.2" stroke="#1c1c1c" stroke-width="0.8"/>
<line x1="468.2" y1="119.5" x2="468.2" y2="113.7" stroke="#1c1c1c" stroke-width="0.8"/>
<line x1="472.7" y1="119.5" x2="472.7" y2="115" stroke="#1c1c1c" stroke-width="0.8"/>
<line x1="482.8" y1="119.5" x2="482.8" y2="118.8" stroke="#1c1c1c" stroke-width="0.8"/>
<line x1="498" y1="119.5" x2="498" y2="117" stroke="#1c1c1c" stroke-width="0.8"/>
<line x1="503" y1="119.5" x2="503" y2="118.2" stroke="#1c1c1c" stroke-width="0.8"/>
<line x1="507.6" y1="119.5" x2="507.6" y2="118" stroke="#1c1c1c" stroke-width="0.8"/>
<line x1="511.9" y1="119.5" x2="511.9" y2="109.4" stroke="#1c1c1c" stroke-width="0.8"/>
<line x1="516.2" y1="119.5" x2="516.2" y2="114.4" stroke="#1c1c1c" stroke-width="0.8"/>
<line x1="520.2" y1="119.5" x2="520.2" y2="110.2" stroke="#1c1c1c" stroke-width="0.8"/>
<line x1="524.7" y1="119.5" x2="524.7" y2="108.9" stroke="#1c1c1c" stroke-width="0.8"/>
<line x1="529.5" y1="119.5" x2="529.5" y2="115" stroke="#1c1c1c" stroke-width="0.8"/>
<line x1="533.3" y1="119.5" x2="533.3" y2="115.7" stroke="#1c1c1c" stroke-width="0.8"/>
<line x1="537.9" y1="119.5" x2="537.9" y2="112" stroke="#1c1c1c" stroke-width="0.8"/>
<line x1="542.4" y1="119.5" x2="542.4" y2="110.2" stroke="#1c1c1c" stroke-width="0.8"/>
<line x1="586.3" y1="119.5" x2="586.3" y2="105.6" stroke="#1c1c1c" stroke-width="0.8"/>
<line x1="590.4" y1="119.5" x2="590.4" y2="104.8" stroke="#1c1c1c" stroke-width="0.8"/>
<line x1="599.4" y1="119.5" x2="599.4" y2="114.4" stroke="#1c1c1c" stroke-width="0.8"/>
<line x1="603.7" y1="119.5" x2="603.7" y2="107.6" stroke="#1c1c1c" stroke-width="0.8"/>
<line x1="608" y1="119.5" x2="608" y2="104.3" stroke="#1c1c1c" stroke-width="0.8"/>
<line x1="652.2" y1="119.5" x2="652.2" y2="118" stroke="#1c1c1c" stroke-width="0.8"/>
<line x1="670" y1="119.5" x2="670" y2="116.5" stroke="#1c1c1c" stroke-width="0.8"/>
<line x1="608" y1="119.5" x2="608" y2="94.2" stroke="#9a9a9a" stroke-width="0.9"/>
<line x1="673.7" y1="119.5" x2="673.7" y2="79.1" stroke="#9a9a9a" stroke-width="0.9"/>
<line x1="433.4" y1="119.5" x2="433.4" y2="127" stroke="#ee3b3b" stroke-width="0.8"/>
<line x1="450.4" y1="119.5" x2="450.4" y2="127" stroke="#ee3b3b" stroke-width="0.8"/>
<line x1="455.5" y1="119.5" x2="455.5" y2="166.2" stroke="#ee3b3b" stroke-width="0.8"/>
<line x1="498" y1="119.5" x2="498" y2="122" stroke="#ee3b3b" stroke-width="0.8"/>
<line x1="511.9" y1="119.5" x2="511.9" y2="141" stroke="#ee3b3b" stroke-width="0.8"/>
<line x1="516.2" y1="119.5" x2="516.2" y2="123.3" stroke="#ee3b3b" stroke-width="0.8"/>
<line x1="520.2" y1="119.5" x2="520.2" y2="128.3" stroke="#ee3b3b" stroke-width="0.8"/>
<line x1="524.7" y1="119.5" x2="524.7" y2="129.6" stroke="#ee3b3b" stroke-width="0.8"/>
<line x1="533.3" y1="119.5" x2="533.3" y2="125.8" stroke="#ee3b3b" stroke-width="0.8"/>
<line x1="537.9" y1="119.5" x2="537.9" y2="128.3" stroke="#ee3b3b" stroke-width="0.8"/>
<line x1="542.4" y1="119.5" x2="542.4" y2="134.6" stroke="#ee3b3b" stroke-width="0.8"/>
<line x1="586.3" y1="119.5" x2="586.3" y2="127.6" stroke="#ee3b3b" stroke-width="0.8"/>
<line x1="590.4" y1="119.5" x2="590.4" y2="127.6" stroke="#ee3b3b" stroke-width="0.8"/>
<line x1="599.4" y1="119.5" x2="599.4" y2="134.6" stroke="#ee3b3b" stroke-width="0.8"/>
<line x1="603.7" y1="119.5" x2="603.7" y2="141.5" stroke="#ee3b3b" stroke-width="0.8"/>
<line x1="608" y1="119.5" x2="608" y2="158.6" stroke="#ee3b3b" stroke-width="0.8"/>
<line x1="670" y1="119.5" x2="670" y2="123.3" stroke="#ee3b3b" stroke-width="0.8"/>
<line x1="673.7" y1="119.5" x2="673.7" y2="178.8" stroke="#ee3b3b" stroke-width="0.8"/>
<text x="424" y="107.8" font-size="6.8" fill="#111" font-weight="bold">281.3247</text>
<text x="456.3" y="62.8" font-size="6.8" fill="#111" font-weight="bold">373.3713</text>
<text x="501.2" y="114.6" font-size="6.8" fill="#111" font-weight="bold" transform="rotate(-90 501.2 114.6)">557.6015</text>
<text x="514.4" y="106.8" font-size="6.8" fill="#111" font-weight="bold" transform="rotate(-90 514.4 106.8)">615.6436</text>
<text x="544.3" y="108.6" font-size="6.8" fill="#111" font-weight="bold" transform="rotate(-90 544.3 108.6)">743.727</text>
<text x="612" y="92.5" font-size="6.8" fill="#111" font-weight="bold" text-anchor="middle">1024.0333</text>
<text x="683.6" y="76.6" font-size="6.8" fill="#111" font-weight="bold" text-anchor="end">1304.3393</text>
<polyline points="433.9,128.4 433.9,145.5 453.6,145.5" fill="none" stroke="#1f78c4" stroke-width="0.9" stroke-linejoin="round" stroke-dasharray="4.2,1.3"/>
<text x="438.6" y="152.4" font-size="6.6" fill="#1f78c4" font-weight="bold" text-anchor="middle">-Glycerol</text>
<polyline points="542.4,136 542.4,153.6 607.8,153.6" fill="none" stroke="#1f78c4" stroke-width="0.9" stroke-linejoin="round" stroke-dasharray="4.2,1.3"/>
<text x="559.5" y="150.6" font-size="6.6" fill="#1f78c4" font-weight="bold">-C<tspan font-size="4.2" baseline-shift="-1.3">24</tspan> chain</text>
<text x="673.6" y="185.3" font-size="6.6" fill="#1f78c4" font-weight="bold" text-anchor="middle">[M+H]<tspan font-size="4.2" baseline-shift="2.6">+</tspan></text>
<rect x="379.1" y="48.4" width="304.7" height="141.9" fill="none" stroke="#383838" stroke-width="1.15"/>
<line x1="377.5" y1="60.3" x2="379.1" y2="60.3" stroke="#1c1c1c" stroke-width="0.8"/>
<text x="0" y="0" transform="translate(376.5 63.2) scale(1 1.15)" font-size="8" fill="#222" text-anchor="end">100</text>
<line x1="377.5" y1="90" x2="379.1" y2="90" stroke="#1c1c1c" stroke-width="0.8"/>
<text x="0" y="0" transform="translate(376.5 92.9) scale(1 1.15)" font-size="8" fill="#222" text-anchor="end">50</text>
<line x1="377.5" y1="119.6" x2="379.1" y2="119.6" stroke="#1c1c1c" stroke-width="0.8"/>
<text x="0" y="0" transform="translate(376.5 122.5) scale(1 1.15)" font-size="8" fill="#222" text-anchor="end">0</text>
<line x1="377.5" y1="149.3" x2="379.1" y2="149.3" stroke="#1c1c1c" stroke-width="0.8"/>
<text x="0" y="0" transform="translate(376.5 152.2) scale(1 1.15)" font-size="8" fill="#222" text-anchor="end">−50</text>
<line x1="377.5" y1="179" x2="379.1" y2="179" stroke="#1c1c1c" stroke-width="0.8"/>
<text x="0" y="0" transform="translate(376.5 181.9) scale(1 1.15)" font-size="8" fill="#222" text-anchor="end">−100</text>
<line x1="485" y1="190.3" x2="485" y2="192.1" stroke="#1c1c1c" stroke-width="0.8"/>
<text x="0" y="0" transform="translate(485 200) scale(1 1.15)" font-size="8" fill="#222" text-anchor="middle">500</text>
<line x1="601.8" y1="190.3" x2="601.8" y2="192.1" stroke="#1c1c1c" stroke-width="0.8"/>
<text x="0" y="0" transform="translate(601.8 200) scale(1 1.15)" font-size="8" fill="#222" text-anchor="middle">1000</text>
<text x="531.9" y="209.6" font-size="9.8" fill="#222" text-anchor="middle" font-style="italic">m/z</text>
<text x="355.7" y="121.2" font-size="9.5" fill="#222" text-anchor="middle" transform="rotate(-90 355.7 121.2)">Relative Intensity (%)</text>
<line x1="5.1" y1="276.9" x2="211.7" y2="276.9" stroke="#cdcdcd" stroke-width="1.6"/>
<line x1="23.3" y1="276.9" x2="23.3" y2="273.1" stroke="#9a9a9a" stroke-width="0.8"/>
<line x1="24.9" y1="276.9" x2="24.9" y2="274" stroke="#333" stroke-width="0.8"/>
<line x1="28.6" y1="276.9" x2="28.6" y2="275" stroke="#333" stroke-width="0.8"/>
<line x1="34.2" y1="276.9" x2="34.2" y2="268" stroke="#333" stroke-width="0.8"/>
<line x1="36.1" y1="276.9" x2="36.1" y2="268" stroke="#333" stroke-width="0.8"/>
<line x1="38.1" y1="276.9" x2="38.1" y2="270.4" stroke="#333" stroke-width="0.8"/>
<line x1="45.8" y1="276.9" x2="45.8" y2="271.2" stroke="#333" stroke-width="0.8"/>
<line x1="47.7" y1="276.9" x2="47.7" y2="262.4" stroke="#333" stroke-width="0.8"/>
<line x1="49.5" y1="276.9" x2="49.5" y2="239.1" stroke="#333" stroke-width="0.8"/>
<line x1="51.4" y1="276.9" x2="51.4" y2="275" stroke="#333" stroke-width="0.8"/>
<line x1="60.7" y1="276.9" x2="60.7" y2="260.4" stroke="#333" stroke-width="0.8"/>
<line x1="62.3" y1="276.9" x2="62.3" y2="235.5" stroke="#333" stroke-width="0.8"/>
<line x1="64.6" y1="276.9" x2="64.6" y2="271.2" stroke="#333" stroke-width="0.8"/>
<line x1="66.2" y1="276.9" x2="66.2" y2="272" stroke="#333" stroke-width="0.8"/>
<line x1="73.9" y1="276.9" x2="73.9" y2="258.4" stroke="#9a9a9a" stroke-width="0.8"/>
<line x1="75.5" y1="276.9" x2="75.5" y2="243.6" stroke="#333" stroke-width="0.8"/>
<line x1="77.4" y1="276.9" x2="77.4" y2="271" stroke="#333" stroke-width="0.8"/>
<line x1="79.5" y1="276.9" x2="79.5" y2="274" stroke="#333" stroke-width="0.8"/>
<line x1="83.5" y1="276.9" x2="83.5" y2="274.5" stroke="#9a9a9a" stroke-width="0.8"/>
<line x1="85.9" y1="276.9" x2="85.9" y2="271" stroke="#9a9a9a" stroke-width="0.8"/>
<line x1="87.5" y1="276.9" x2="87.5" y2="256.8" stroke="#9a9a9a" stroke-width="0.8"/>
<line x1="89.1" y1="276.9" x2="89.1" y2="254.8" stroke="#9a9a9a" stroke-width="0.8"/>
<line x1="90.7" y1="276.9" x2="90.7" y2="274" stroke="#333" stroke-width="0.8"/>
<line x1="98.3" y1="276.9" x2="98.3" y2="270.5" stroke="#333" stroke-width="0.8"/>
<line x1="100.4" y1="276.9" x2="100.4" y2="253" stroke="#333" stroke-width="0.8"/>
<line x1="102" y1="276.9" x2="102" y2="260" stroke="#9a9a9a" stroke-width="0.8"/>
<line x1="103.5" y1="276.9" x2="103.5" y2="271" stroke="#333" stroke-width="0.8"/>
<line x1="111.5" y1="276.9" x2="111.5" y2="268" stroke="#333" stroke-width="0.8"/>
<line x1="113.6" y1="276.9" x2="113.6" y2="257.4" stroke="#333" stroke-width="0.8"/>
<line x1="115.6" y1="276.9" x2="115.6" y2="262.7" stroke="#333" stroke-width="0.8"/>
<line x1="124.4" y1="276.9" x2="124.4" y2="271.7" stroke="#333" stroke-width="0.8"/>
<line x1="126.5" y1="276.9" x2="126.5" y2="259.5" stroke="#333" stroke-width="0.8"/>
<line x1="128.6" y1="276.9" x2="128.6" y2="269.6" stroke="#333" stroke-width="0.8"/>
<line x1="130.4" y1="276.9" x2="130.4" y2="269.1" stroke="#333" stroke-width="0.8"/>
<line x1="137.5" y1="276.9" x2="137.5" y2="270" stroke="#333" stroke-width="0.8"/>
<line x1="139.2" y1="276.9" x2="139.2" y2="263.1" stroke="#333" stroke-width="0.8"/>
<line x1="141.5" y1="276.9" x2="141.5" y2="266.3" stroke="#333" stroke-width="0.8"/>
<line x1="146.8" y1="276.9" x2="146.8" y2="268" stroke="#9a9a9a" stroke-width="0.8"/>
<line x1="150.4" y1="276.9" x2="150.4" y2="268.9" stroke="#333" stroke-width="0.8"/>
<line x1="152.5" y1="276.9" x2="152.5" y2="268" stroke="#333" stroke-width="0.8"/>
<line x1="154.8" y1="276.9" x2="154.8" y2="267.5" stroke="#333" stroke-width="0.8"/>
<line x1="163.6" y1="276.9" x2="163.6" y2="268.9" stroke="#9a9a9a" stroke-width="0.8"/>
<line x1="165.7" y1="276.9" x2="165.7" y2="267.6" stroke="#9a9a9a" stroke-width="0.8"/>
<line x1="167.5" y1="276.9" x2="167.5" y2="270.6" stroke="#333" stroke-width="0.8"/>
<line x1="178.6" y1="276.9" x2="178.6" y2="271.2" stroke="#9a9a9a" stroke-width="0.8"/>
<line x1="180.4" y1="276.9" x2="180.4" y2="266.8" stroke="#9a9a9a" stroke-width="0.8"/>
<line x1="191" y1="276.9" x2="191" y2="274.7" stroke="#333" stroke-width="0.8"/>
<line x1="193.7" y1="276.9" x2="193.7" y2="272.9" stroke="#333" stroke-width="0.8"/>
<line x1="197.6" y1="276.9" x2="197.6" y2="265.4" stroke="#333" stroke-width="0.8"/>
<line x1="200.4" y1="276.9" x2="200.4" y2="274.2" stroke="#333" stroke-width="0.8"/>
<line x1="204.3" y1="276.9" x2="204.3" y2="274.2" stroke="#333" stroke-width="0.8"/>
<line x1="206" y1="276.9" x2="206" y2="273.3" stroke="#333" stroke-width="0.8"/>
<line x1="207.8" y1="276.9" x2="207.8" y2="273.3" stroke="#333" stroke-width="0.8"/>
<line x1="11.2" y1="276.9" x2="11.2" y2="278.2" stroke="#f04848" stroke-width="0.8"/>
<line x1="23.3" y1="276.9" x2="23.3" y2="278.6" stroke="#f04848" stroke-width="0.8"/>
<line x1="34.5" y1="276.9" x2="34.5" y2="279" stroke="#f04848" stroke-width="0.8"/>
<line x1="36.6" y1="276.9" x2="36.6" y2="280.8" stroke="#f04848" stroke-width="0.8"/>
<line x1="38.5" y1="276.9" x2="38.5" y2="279.2" stroke="#f04848" stroke-width="0.8"/>
<line x1="47.7" y1="276.9" x2="47.7" y2="280" stroke="#f04848" stroke-width="0.8"/>
<line x1="49.4" y1="276.9" x2="49.4" y2="293.6" stroke="#f04848" stroke-width="0.8"/>
<line x1="60.7" y1="276.9" x2="60.7" y2="285.7" stroke="#f04848" stroke-width="0.8"/>
<line x1="62.7" y1="276.9" x2="62.7" y2="297.8" stroke="#f04848" stroke-width="0.8"/>
<line x1="73.9" y1="276.9" x2="73.9" y2="283.5" stroke="#f04848" stroke-width="0.8"/>
<line x1="75.5" y1="276.9" x2="75.5" y2="295" stroke="#f04848" stroke-width="0.8"/>
<line x1="86.7" y1="276.9" x2="86.7" y2="281" stroke="#f04848" stroke-width="0.8"/>
<line x1="88.8" y1="276.9" x2="88.8" y2="290.5" stroke="#f04848" stroke-width="0.8"/>
<line x1="98.3" y1="276.9" x2="98.3" y2="281" stroke="#f04848" stroke-width="0.8"/>
<line x1="100.4" y1="276.9" x2="100.4" y2="282.5" stroke="#f04848" stroke-width="0.8"/>
<line x1="102.1" y1="276.9" x2="102.1" y2="287.5" stroke="#f04848" stroke-width="0.8"/>
<line x1="111.5" y1="276.9" x2="111.5" y2="281.5" stroke="#f04848" stroke-width="0.8"/>
<line x1="115.6" y1="276.9" x2="115.6" y2="284.8" stroke="#f04848" stroke-width="0.8"/>
<line x1="128.3" y1="276.9" x2="128.3" y2="283" stroke="#f04848" stroke-width="0.8"/>
<line x1="141.5" y1="276.9" x2="141.5" y2="282.3" stroke="#f04848" stroke-width="0.8"/>
<line x1="146.8" y1="276.9" x2="146.8" y2="303.4" stroke="#f04848" stroke-width="0.8"/>
<line x1="154.8" y1="276.9" x2="154.8" y2="280.5" stroke="#f04848" stroke-width="0.8"/>
<line x1="163.6" y1="276.9" x2="163.6" y2="296.7" stroke="#f04848" stroke-width="0.8"/>
<line x1="167.5" y1="276.9" x2="167.5" y2="281.5" stroke="#f04848" stroke-width="0.8"/>
<line x1="180.4" y1="276.9" x2="180.4" y2="296.3" stroke="#f04848" stroke-width="0.8"/>
<line x1="197.6" y1="276.9" x2="197.6" y2="316" stroke="#f04848" stroke-width="0.8"/>
<line x1="207.5" y1="276.9" x2="207.5" y2="279.7" stroke="#f04848" stroke-width="0.8"/>
<line x1="50.5" y1="276.9" x2="50.5" y2="292.1" stroke="#f6a3a3" stroke-width="0.7"/>
<line x1="61.8" y1="276.9" x2="61.8" y2="284.2" stroke="#f6a3a3" stroke-width="0.7"/>
<line x1="63.8" y1="276.9" x2="63.8" y2="296.3" stroke="#f6a3a3" stroke-width="0.7"/>
<line x1="75" y1="276.9" x2="75" y2="282" stroke="#f6a3a3" stroke-width="0.7"/>
<line x1="76.6" y1="276.9" x2="76.6" y2="293.5" stroke="#f6a3a3" stroke-width="0.7"/>
<line x1="89.9" y1="276.9" x2="89.9" y2="289" stroke="#f6a3a3" stroke-width="0.7"/>
<line x1="103.2" y1="276.9" x2="103.2" y2="286" stroke="#f6a3a3" stroke-width="0.7"/>
<line x1="116.7" y1="276.9" x2="116.7" y2="283.3" stroke="#f6a3a3" stroke-width="0.7"/>
<line x1="147.9" y1="276.9" x2="147.9" y2="301.9" stroke="#f6a3a3" stroke-width="0.7"/>
<line x1="164.7" y1="276.9" x2="164.7" y2="295.2" stroke="#f6a3a3" stroke-width="0.7"/>
<line x1="181.5" y1="276.9" x2="181.5" y2="294.8" stroke="#f6a3a3" stroke-width="0.7"/>
<line x1="198.7" y1="276.9" x2="198.7" y2="314.5" stroke="#f6a3a3" stroke-width="0.7"/>
<line x1="62.7" y1="297.8" x2="57.3" y2="306.8" stroke="#1c1c1c" stroke-width="0.6"/>
<line x1="75.5" y1="295" x2="71.6" y2="300.3" stroke="#1c1c1c" stroke-width="0.6"/>
<text x="49.8" y="233" font-size="6.8" fill="#111" font-weight="bold">111.1162</text>
<text x="38.5" y="242.3" font-size="6.8" fill="#111" font-weight="bold">97.1013</text>
<text x="67.1" y="241.2" font-size="6.8" fill="#111" font-weight="bold">125.1318</text>
<text x="22.2" y="266" font-size="6.8" fill="#111" font-weight="bold">83.0847</text>
<text x="76.8" y="252" font-size="6.8" fill="#111" font-weight="bold">139.1475</text>
<text x="104.4" y="256" font-size="6.8" fill="#111" font-weight="bold">165.1639</text>
<text x="186" y="262.7" font-size="6.8" fill="#111" font-weight="bold">255.1068</text>
<text x="24.9" y="288.2" font-size="6.8" fill="#f81818" font-weight="bold">83.0861</text>
<text x="33.7" y="300.3" font-size="6.8" fill="#f81818" font-weight="bold">97.1017</text>
<text x="62" y="304.5" font-size="6.8" fill="#f81818" font-weight="bold">125.133</text>
<text x="44.6" y="312.1" font-size="6.8" fill="#f81818" font-weight="bold">111.1174</text>
<text x="78.8" y="297" font-size="6.8" fill="#f81818" font-weight="bold">139.1487</text>
<text x="103.9" y="289.2" font-size="6.8" fill="#f81818" font-weight="bold">167.18</text>
<text x="136.2" y="311.3" font-size="6.8" fill="#f81818" font-weight="bold">201.0763</text>
<text x="168.6" y="303" font-size="6.8" fill="#f81818" font-weight="bold">237.0974</text>
<text x="188.7" y="322.3" font-size="6.8" fill="#f81818" font-weight="bold">255.108</text>
<text x="99.5" y="367.3" font-size="9.6" fill="#222" text-anchor="middle">Region III</text>
<line x1="220.8" y1="276.7" x2="464.8" y2="276.7" stroke="#cdcdcd" stroke-width="1.6"/>
<line x1="242" y1="276.7" x2="242" y2="237.4" stroke="#3a3a3a" stroke-width="1.1"/>
<rect x="241.1" y="262.7" width="1.8" height="14" fill="#1a1a1a"/>
<line x1="240.2" y1="276.7" x2="240.2" y2="267.7" stroke="#999" stroke-width="0.7"/>
<line x1="252" y1="276.7" x2="252" y2="260.5" stroke="#3a3a3a" stroke-width="1.1"/>
<rect x="251.1" y="269.9" width="1.8" height="6.8" fill="#1a1a1a"/>
<line x1="250.2" y1="276.7" x2="250.2" y2="271.84" stroke="#999" stroke-width="0.7"/>
<line x1="264.9" y1="276.7" x2="264.9" y2="272.9" stroke="#3a3a3a" stroke-width="1.1"/>
<rect x="264.1" y="274.42" width="1.6" height="2.28" fill="#333"/>
<line x1="276.3" y1="276.7" x2="276.3" y2="236.8" stroke="#3a3a3a" stroke-width="1.1"/>
<rect x="275.4" y="262.7" width="1.8" height="14" fill="#1a1a1a"/>
<line x1="274.5" y1="276.7" x2="274.5" y2="267.7" stroke="#999" stroke-width="0.7"/>
<line x1="287.3" y1="276.7" x2="287.3" y2="236.8" stroke="#3a3a3a" stroke-width="1.1"/>
<rect x="286.4" y="262.7" width="1.8" height="14" fill="#1a1a1a"/>
<line x1="285.5" y1="276.7" x2="285.5" y2="267.7" stroke="#999" stroke-width="0.7"/>
<line x1="298" y1="276.7" x2="298" y2="264.7" stroke="#3a3a3a" stroke-width="1.1"/>
<rect x="297.1" y="271.66" width="1.8" height="5.04" fill="#1a1a1a"/>
<line x1="296.2" y1="276.7" x2="296.2" y2="273.1" stroke="#999" stroke-width="0.7"/>
<line x1="304.6" y1="276.7" x2="304.6" y2="274.5" stroke="#3a3a3a" stroke-width="1.1"/>
<rect x="303.8" y="275.38" width="1.6" height="1.32" fill="#333"/>
<line x1="309.3" y1="276.7" x2="309.3" y2="241.2" stroke="#3a3a3a" stroke-width="1.1"/>
<rect x="308.4" y="262.7" width="1.8" height="14" fill="#1a1a1a"/>
<line x1="307.5" y1="276.7" x2="307.5" y2="267.7" stroke="#999" stroke-width="0.7"/>
<line x1="321.3" y1="276.7" x2="321.3" y2="262.8" stroke="#3a3a3a" stroke-width="1.1"/>
<rect x="320.4" y="270.86" width="1.8" height="5.84" fill="#1a1a1a"/>
<line x1="319.5" y1="276.7" x2="319.5" y2="272.53" stroke="#999" stroke-width="0.7"/>
<line x1="332.7" y1="276.7" x2="332.7" y2="261.5" stroke="#3a3a3a" stroke-width="1.1"/>
<rect x="331.8" y="270.32" width="1.8" height="6.38" fill="#1a1a1a"/>
<line x1="330.9" y1="276.7" x2="330.9" y2="272.14" stroke="#999" stroke-width="0.7"/>
<line x1="343.6" y1="276.7" x2="343.6" y2="262.4" stroke="#3a3a3a" stroke-width="1.1"/>
<rect x="342.7" y="270.69" width="1.8" height="6.01" fill="#1a1a1a"/>
<line x1="341.8" y1="276.7" x2="341.8" y2="272.41" stroke="#999" stroke-width="0.7"/>
<line x1="354.4" y1="276.7" x2="354.4" y2="255.5" stroke="#3a3a3a" stroke-width="1.1"/>
<rect x="353.5" y="267.8" width="1.8" height="8.9" fill="#1a1a1a"/>
<line x1="352.6" y1="276.7" x2="352.6" y2="270.34" stroke="#999" stroke-width="0.7"/>
<line x1="364.6" y1="276.7" x2="364.6" y2="251.4" stroke="#3a3a3a" stroke-width="1.1"/>
<rect x="363.7" y="266.07" width="1.8" height="10.63" fill="#1a1a1a"/>
<line x1="362.8" y1="276.7" x2="362.8" y2="269.11" stroke="#999" stroke-width="0.7"/>
<line x1="375.5" y1="276.7" x2="375.5" y2="268.5" stroke="#3a3a3a" stroke-width="1.1"/>
<rect x="374.6" y="273.26" width="1.8" height="3.44" fill="#1a1a1a"/>
<line x1="373.7" y1="276.7" x2="373.7" y2="274.24" stroke="#999" stroke-width="0.7"/>
<line x1="386.7" y1="276.7" x2="386.7" y2="273.9" stroke="#3a3a3a" stroke-width="1.1"/>
<rect x="385.9" y="275.02" width="1.6" height="1.68" fill="#333"/>
<line x1="397.3" y1="276.7" x2="397.3" y2="256.9" stroke="#3a3a3a" stroke-width="1.1"/>
<rect x="396.4" y="268.38" width="1.8" height="8.32" fill="#1a1a1a"/>
<line x1="395.5" y1="276.7" x2="395.5" y2="270.76" stroke="#999" stroke-width="0.7"/>
<line x1="409.6" y1="276.7" x2="409.6" y2="265.7" stroke="#3a3a3a" stroke-width="1.1"/>
<rect x="408.7" y="272.08" width="1.8" height="4.62" fill="#1a1a1a"/>
<line x1="407.8" y1="276.7" x2="407.8" y2="273.4" stroke="#999" stroke-width="0.7"/>
<line x1="420.4" y1="276.7" x2="420.4" y2="273.2" stroke="#3a3a3a" stroke-width="1.1"/>
<rect x="419.6" y="274.6" width="1.6" height="2.1" fill="#333"/>
<line x1="431.7" y1="276.7" x2="431.7" y2="269.2" stroke="#3a3a3a" stroke-width="1.1"/>
<rect x="430.8" y="273.55" width="1.8" height="3.15" fill="#1a1a1a"/>
<line x1="429.9" y1="276.7" x2="429.9" y2="274.45" stroke="#999" stroke-width="0.7"/>
<line x1="442.7" y1="276.7" x2="442.7" y2="267.7" stroke="#3a3a3a" stroke-width="1.1"/>
<rect x="441.8" y="272.92" width="1.8" height="3.78" fill="#1a1a1a"/>
<line x1="440.9" y1="276.7" x2="440.9" y2="274" stroke="#999" stroke-width="0.7"/>
<line x1="453.5" y1="276.7" x2="453.5" y2="265.1" stroke="#3a3a3a" stroke-width="1.1"/>
<rect x="452.6" y="271.83" width="1.8" height="4.87" fill="#1a1a1a"/>
<line x1="451.7" y1="276.7" x2="451.7" y2="273.22" stroke="#999" stroke-width="0.7"/>
<line x1="242" y1="276.7" x2="242" y2="300" stroke="#f5403f" stroke-width="1.1"/>
<line x1="253" y1="276.7" x2="253" y2="288" stroke="#f5403f" stroke-width="1.1"/>
<line x1="264.9" y1="276.7" x2="264.9" y2="282.4" stroke="#f5403f" stroke-width="1.1"/>
<line x1="275.7" y1="276.7" x2="275.7" y2="305.7" stroke="#f5403f" stroke-width="1.1"/>
<line x1="287.3" y1="276.7" x2="287.3" y2="291" stroke="#f5403f" stroke-width="1.1"/>
<line x1="298.1" y1="276.7" x2="298.1" y2="305.7" stroke="#f5403f" stroke-width="1.1"/>
<line x1="309.3" y1="276.7" x2="309.3" y2="305.7" stroke="#f5403f" stroke-width="1.1"/>
<line x1="321.7" y1="276.7" x2="321.7" y2="281.4" stroke="#f5403f" stroke-width="1.1"/>
<line x1="332.7" y1="276.7" x2="332.7" y2="292.4" stroke="#f5403f" stroke-width="1.1"/>
<line x1="343.6" y1="276.7" x2="343.6" y2="298.4" stroke="#f5403f" stroke-width="1.1"/>
<line x1="354.4" y1="276.7" x2="354.4" y2="318.2" stroke="#f5403f" stroke-width="1.1"/>
<line x1="364.6" y1="276.7" x2="364.6" y2="282.4" stroke="#f5403f" stroke-width="1.1"/>
<line x1="375.5" y1="276.7" x2="375.5" y2="306" stroke="#f5403f" stroke-width="1.1"/>
<line x1="386.7" y1="276.7" x2="386.7" y2="291.6" stroke="#f5403f" stroke-width="1.1"/>
<line x1="397.3" y1="276.7" x2="397.3" y2="306" stroke="#f5403f" stroke-width="1.1"/>
<line x1="408.6" y1="276.7" x2="408.6" y2="306" stroke="#f5403f" stroke-width="1.1"/>
<line x1="420.4" y1="276.7" x2="420.4" y2="281.4" stroke="#f5403f" stroke-width="1.1"/>
<line x1="431.7" y1="276.7" x2="431.7" y2="290.6" stroke="#f5403f" stroke-width="1.1"/>
<line x1="442.7" y1="276.7" x2="442.7" y2="295.7" stroke="#f5403f" stroke-width="1.1"/>
<line x1="453.5" y1="276.7" x2="453.5" y2="310" stroke="#f5403f" stroke-width="1.1"/>
<text x="228.7" y="235" font-size="6.8" fill="#111" font-weight="bold">553.5692</text>
<text x="264.3" y="234.5" font-size="6.8" fill="#111" font-weight="bold">611.6113</text>
<text x="298.9" y="238.2" font-size="6.8" fill="#111" font-weight="bold">665.6443</text>
<text x="321.8" y="258.3" font-size="6.8" fill="#111" font-weight="bold">703.6591</text>
<text x="353.8" y="248.7" font-size="6.8" fill="#111" font-weight="bold">755.6542</text>
<text x="365.2" y="266.1" font-size="6.8" fill="#111" font-weight="bold">773.6693</text>
<text x="387.1" y="254.2" font-size="6.8" fill="#111" font-weight="bold">809.6881</text>
<text x="415.7" y="267.1" font-size="6.8" fill="#111" font-weight="bold">865.7162</text>
<text x="441.7" y="261" font-size="6.8" fill="#111" font-weight="bold">901.7341</text>
<text x="222.6" y="306.1" font-size="6.8" fill="#f81818" font-weight="bold">553.5712</text>
<text x="264.3" y="313.3" font-size="6.8" fill="#f81818" font-weight="bold">611.6131</text>
<text x="298" y="313.3" font-size="6.8" fill="#f81818" font-weight="bold">665.6448</text>
<text x="314" y="298.9" font-size="6.8" fill="#f81818" font-weight="bold">703.6604</text>
<text x="342.8" y="322.5" font-size="6.8" fill="#f81818" font-weight="bold">739.6816</text>
<text x="359.1" y="311" font-size="6.8" fill="#f81818" font-weight="bold">773.6659</text>
<text x="389.2" y="311" font-size="6.8" fill="#f81818" font-weight="bold">809.687</text>
<text x="412.7" y="296.3" font-size="6.8" fill="#f81818" font-weight="bold">865.7133</text>
<text x="440.9" y="316.2" font-size="6.8" fill="#f81818" font-weight="bold">901.7344</text>
<text x="455.8" y="230.3" font-size="6.6" fill="#1f78c4" font-weight="bold" text-anchor="middle">-SN2/3</text>
<text x="455.3" y="237" font-size="6.6" fill="#1f78c4" font-weight="bold" text-anchor="middle">-C40H76</text>
<text x="342" y="367.3" font-size="9.6" fill="#222" text-anchor="middle">Region II</text>
<text x="259.2" y="322.8" font-size="6.6" fill="#1f78c4" text-anchor="middle">-C3H4O</text>
<line x1="243.1" y1="324.9" x2="275.6" y2="324.9" stroke="#333" stroke-width="0.8"/>
<polygon points="242.6,324.9 244.3,323.96 244.3,325.83" fill="#333"/>
<polygon points="276.1,324.9 274.4,323.96 274.4,325.83" fill="#333"/>
<line x1="242.5" y1="323.4" x2="242.5" y2="326" stroke="#222" stroke-width="0.85"/>
<line x1="276.7" y1="323.4" x2="276.7" y2="326" stroke="#222" stroke-width="0.85"/>
<line x1="241.9" y1="328.5" x2="241.9" y2="358.5" stroke="#222" stroke-width="0.85"/>
<line x1="242.4" y1="328.5" x2="275.6" y2="328.5" stroke="#333" stroke-width="0.8"/>
<polygon points="241.9,328.5 243.6,327.56 243.6,329.44" fill="#333"/>
<polygon points="276.1,328.5 274.4,327.56 274.4,329.44" fill="#333"/>
<line x1="253.5" y1="335.5" x2="275.7" y2="335.5" stroke="#333" stroke-width="0.7"/>
<line x1="253.5" y1="329.2" x2="253.5" y2="341.3" stroke="#333" stroke-width="0.85"/>
<line x1="264.6" y1="329.2" x2="264.6" y2="341.3" stroke="#333" stroke-width="0.85"/>
<line x1="275.7" y1="329.2" x2="275.7" y2="341.3" stroke="#333" stroke-width="0.85"/>
<text x="259.25" y="335.3" font-size="6.4" fill="#222" text-anchor="middle">-18</text>
<text x="270.35" y="335.3" font-size="6.4" fill="#222" text-anchor="middle">-18</text>
<line x1="276.1" y1="324" x2="276.1" y2="339.5" stroke="#222" stroke-width="0.85"/>
<text x="281.6" y="338" font-size="6.6" fill="#222" text-anchor="middle">-56</text>
<text x="294.4" y="331.3" font-size="6.6" fill="#1f78c4" text-anchor="middle">-C3H4O</text>
<line x1="276.6" y1="332.8" x2="309.1" y2="332.8" stroke="#333" stroke-width="0.8"/>
<polygon points="276.1,332.8 277.8,331.87 277.8,333.74" fill="#333"/>
<polygon points="309.6,332.8 307.9,331.87 307.9,333.74" fill="#333"/>
<text x="316.6" y="338.3" font-size="6.6" fill="#222" text-anchor="middle">-74</text>
<line x1="265.6" y1="345.3" x2="309.6" y2="345.3" stroke="#333" stroke-width="0.7"/>
<line x1="265.6" y1="339" x2="265.6" y2="351.1" stroke="#333" stroke-width="0.85"/>
<line x1="276.6" y1="339" x2="276.6" y2="351.1" stroke="#333" stroke-width="0.85"/>
<line x1="287.6" y1="339" x2="287.6" y2="351.1" stroke="#333" stroke-width="0.85"/>
<line x1="298.6" y1="339" x2="298.6" y2="351.1" stroke="#333" stroke-width="0.85"/>
<line x1="309.6" y1="339" x2="309.6" y2="351.1" stroke="#333" stroke-width="0.85"/>
<text x="271.3" y="345.1" font-size="6.4" fill="#222" text-anchor="middle">-18</text>
<text x="282.3" y="345.1" font-size="6.4" fill="#222" text-anchor="middle">-18</text>
<text x="293.3" y="345.1" font-size="6.4" fill="#222" text-anchor="middle">-18</text>
<text x="304.3" y="345.1" font-size="6.4" fill="#222" text-anchor="middle">-18</text>
<line x1="265.6" y1="339.5" x2="265.6" y2="358.5" stroke="#222" stroke-width="0.85"/>
<line x1="309.6" y1="332.8" x2="309.6" y2="358.5" stroke="#222" stroke-width="0.85"/>
<text x="287.2" y="357" font-size="6.6" fill="#1f78c4" text-anchor="middle">-4×H2O</text>
<text x="332" y="331.3" font-size="6.6" fill="#1f78c4" text-anchor="middle">-C3H6O2</text>
<line x1="310.1" y1="332.8" x2="353.9" y2="332.8" stroke="#333" stroke-width="0.8"/>
<polygon points="309.6,332.8 311.3,331.87 311.3,333.74" fill="#333"/>
<polygon points="354.4,332.8 352.7,331.87 352.7,333.74" fill="#333"/>
<line x1="322.2" y1="339.5" x2="322.2" y2="358.5" stroke="#222" stroke-width="0.85"/>
<line x1="322.2" y1="345.3" x2="354.4" y2="345.3" stroke="#333" stroke-width="0.7"/>
<line x1="322.2" y1="339" x2="322.2" y2="351.1" stroke="#333" stroke-width="0.85"/>
<line x1="332.93" y1="339" x2="332.93" y2="351.1" stroke="#333" stroke-width="0.85"/>
<line x1="343.67" y1="339" x2="343.67" y2="351.1" stroke="#333" stroke-width="0.85"/>
<line x1="354.4" y1="339" x2="354.4" y2="351.1" stroke="#333" stroke-width="0.85"/>
<text x="327.77" y="345.1" font-size="6.4" fill="#222" text-anchor="middle">-18</text>
<text x="338.5" y="345.1" font-size="6.4" fill="#222" text-anchor="middle">-18</text>
<text x="349.23" y="345.1" font-size="6.4" fill="#222" text-anchor="middle">-18</text>
<text x="338.3" y="357.2" font-size="6.6" fill="#1f78c4" text-anchor="middle">-3×H2O</text>
<text x="406.5" y="326.2" font-size="6.6" fill="#1f78c4" text-anchor="middle">-C6H10O5</text>
<line x1="354.9" y1="327" x2="453" y2="327" stroke="#333" stroke-width="0.8"/>
<polygon points="354.4,327 356.1,326.06 356.1,327.94" fill="#333"/>
<polygon points="453.5,327 451.8,326.06 451.8,327.94" fill="#333"/>
<line x1="354.4" y1="325.6" x2="354.4" y2="358.2" stroke="#222" stroke-width="0.85"/>
<line x1="453.5" y1="325.6" x2="453.5" y2="346" stroke="#222" stroke-width="0.85"/>
<text x="366.4" y="333.7" font-size="6.6" fill="#222" text-anchor="middle">-162</text>
<text x="430.3" y="333.7" font-size="6.6" fill="#1f78c4" text-anchor="middle">-C3H6O2</text>
<line x1="408.7" y1="335.2" x2="453" y2="335.2" stroke="#333" stroke-width="0.8"/>
<polygon points="408.2,335.2 409.9,334.26 409.9,336.13" fill="#333"/>
<polygon points="453.5,335.2 451.8,334.26 451.8,336.13" fill="#333"/>
<line x1="408.2" y1="332.3" x2="408.2" y2="358.2" stroke="#222" stroke-width="0.85"/>
<text x="414.4" y="341.9" font-size="6.6" fill="#222" text-anchor="middle">-74</text>
<line x1="364.6" y1="344.8" x2="408.2" y2="344.8" stroke="#333" stroke-width="0.7"/>
<line x1="364.6" y1="338.5" x2="364.6" y2="350.6" stroke="#333" stroke-width="0.85"/>
<line x1="375.5" y1="338.5" x2="375.5" y2="350.6" stroke="#333" stroke-width="0.85"/>
<line x1="386.4" y1="338.5" x2="386.4" y2="350.6" stroke="#333" stroke-width="0.85"/>
<line x1="397.3" y1="338.5" x2="397.3" y2="350.6" stroke="#333" stroke-width="0.85"/>
<line x1="408.2" y1="338.5" x2="408.2" y2="350.6" stroke="#333" stroke-width="0.85"/>
<text x="370.25" y="344.6" font-size="6.4" fill="#222" text-anchor="middle">-18</text>
<text x="381.15" y="344.6" font-size="6.4" fill="#222" text-anchor="middle">-18</text>
<text x="392.05" y="344.6" font-size="6.4" fill="#222" text-anchor="middle">-18</text>
<text x="402.95" y="344.6" font-size="6.4" fill="#222" text-anchor="middle">-18</text>
<line x1="364.6" y1="339.5" x2="364.6" y2="358.2" stroke="#222" stroke-width="0.85"/>
<text x="387.6" y="357.2" font-size="6.6" fill="#1f78c4" text-anchor="middle">-4×H2O</text>
<line x1="420.8" y1="344.8" x2="453.5" y2="344.8" stroke="#333" stroke-width="0.7"/>
<line x1="420.8" y1="338.5" x2="420.8" y2="350.6" stroke="#333" stroke-width="0.85"/>
<line x1="431.7" y1="338.5" x2="431.7" y2="350.6" stroke="#333" stroke-width="0.85"/>
<line x1="442.6" y1="338.5" x2="442.6" y2="350.6" stroke="#333" stroke-width="0.85"/>
<line x1="453.5" y1="338.5" x2="453.5" y2="350.6" stroke="#333" stroke-width="0.85"/>
<text x="426.45" y="344.6" font-size="6.4" fill="#222" text-anchor="middle">-18</text>
<text x="437.35" y="344.6" font-size="6.4" fill="#222" text-anchor="middle">-18</text>
<text x="448.25" y="344.6" font-size="6.4" fill="#222" text-anchor="middle">-18</text>
<line x1="420.8" y1="339.5" x2="420.8" y2="358.2" stroke="#222" stroke-width="0.85"/>
<text x="437.5" y="357.2" font-size="6.6" fill="#1f78c4" text-anchor="middle">-3×H2O</text>
<line x1="471.5" y1="276.8" x2="677.8" y2="276.8" stroke="#cdcdcd" stroke-width="1.6"/>
<line x1="480" y1="276.8" x2="480" y2="276" stroke="#222" stroke-width="0.8"/>
<line x1="493.3" y1="276.8" x2="493.3" y2="274" stroke="#222" stroke-width="0.8"/>
<line x1="507" y1="276.8" x2="507" y2="275" stroke="#222" stroke-width="0.8"/>
<line x1="520" y1="276.8" x2="520" y2="276.2" stroke="#222" stroke-width="0.8"/>
<line x1="534.8" y1="276.8" x2="534.8" y2="271.2" stroke="#222" stroke-width="0.8"/>
<line x1="548.4" y1="276.8" x2="548.4" y2="260" stroke="#222" stroke-width="0.8"/>
<line x1="549.2" y1="276.8" x2="549.2" y2="268" stroke="#222" stroke-width="0.8"/>
<line x1="564.8" y1="276.8" x2="564.8" y2="275.4" stroke="#222" stroke-width="0.8"/>
<line x1="573.1" y1="276.8" x2="573.1" y2="275.4" stroke="#222" stroke-width="0.8"/>
<line x1="586.8" y1="276.8" x2="586.8" y2="276" stroke="#222" stroke-width="0.8"/>
<line x1="601.8" y1="276.8" x2="601.8" y2="276" stroke="#222" stroke-width="0.8"/>
<line x1="606.2" y1="276.8" x2="606.2" y2="275" stroke="#222" stroke-width="0.8"/>
<line x1="614.5" y1="276.8" x2="614.5" y2="265.9" stroke="#222" stroke-width="0.8"/>
<line x1="615.6" y1="276.8" x2="615.6" y2="269.8" stroke="#222" stroke-width="0.8"/>
<line x1="627.4" y1="276.8" x2="627.4" y2="268" stroke="#222" stroke-width="0.8"/>
<line x1="628.3" y1="276.8" x2="628.3" y2="272" stroke="#222" stroke-width="0.8"/>
<line x1="641.5" y1="276.8" x2="641.5" y2="275.5" stroke="#222" stroke-width="0.8"/>
<line x1="654.4" y1="276.8" x2="654.4" y2="271.9" stroke="#222" stroke-width="0.8"/>
<line x1="667.2" y1="276.8" x2="667.2" y2="237.1" stroke="#222" stroke-width="0.8"/>
<line x1="668.2" y1="276.8" x2="668.2" y2="254.2" stroke="#222" stroke-width="0.8"/>
<rect x="546.9" y="272.5" width="2.4" height="4.3" fill="#333"/>
<rect x="533.8" y="274" width="2" height="2.8" fill="#777"/>
<rect x="666.2" y="271" width="2.6" height="5.8" fill="#333"/>
<rect x="613.6" y="272.5" width="2.2" height="4.3" fill="#333"/>
<rect x="626.6" y="273.5" width="2" height="3.3" fill="#444"/>
<line x1="493.3" y1="276.8" x2="493.3" y2="279.5" stroke="#f04848" stroke-width="0.8"/>
<line x1="534.8" y1="276.8" x2="534.8" y2="280.2" stroke="#f04848" stroke-width="0.8"/>
<line x1="548.4" y1="276.8" x2="548.4" y2="296.6" stroke="#f04848" stroke-width="0.8"/>
<line x1="614.5" y1="276.8" x2="614.5" y2="285.7" stroke="#f04848" stroke-width="0.8"/>
<line x1="627.4" y1="276.8" x2="627.4" y2="283" stroke="#f04848" stroke-width="0.8"/>
<line x1="641.5" y1="276.8" x2="641.5" y2="280.4" stroke="#f04848" stroke-width="0.8"/>
<line x1="654.4" y1="276.8" x2="654.4" y2="280.7" stroke="#f04848" stroke-width="0.8"/>
<line x1="667.2" y1="276.8" x2="667.2" y2="316.2" stroke="#f04848" stroke-width="0.8"/>
<text x="536" y="257.7" font-size="6.8" fill="#111" font-weight="bold">1294.2545</text>
<text x="599.1" y="263.6" font-size="6.8" fill="#111" font-weight="bold">1384.2673</text>
<text x="635.4" y="271.2" font-size="6.8" fill="#111" font-weight="bold">1438.3018</text>
<text x="636.2" y="238.8" font-size="6.8" fill="#111" font-weight="bold">1456.3092</text>
<text x="536" y="303" font-size="6.8" fill="#f81818" font-weight="bold">1294.2606</text>
<text x="599.1" y="293.1" font-size="6.8" fill="#f81818" font-weight="bold">1384.2712</text>
<text x="636.2" y="287.8" font-size="6.8" fill="#f81818" font-weight="bold">1438.3029</text>
<text x="651.8" y="323" font-size="6.8" fill="#f81818" font-weight="bold">1456.3134</text>
<text x="673.2" y="230.5" font-size="6.6" fill="#1f78c4" font-weight="bold" text-anchor="middle">[M+H]<tspan font-size="4.2" baseline-shift="2.6">+</tspan></text>
<text x="583.9" y="367.3" font-size="9.6" fill="#222" text-anchor="middle">Region I</text>
<line x1="506.8" y1="325.7" x2="506.8" y2="358.9" stroke="#222" stroke-width="0.85"/>
<line x1="548.1" y1="325.7" x2="548.1" y2="358.9" stroke="#222" stroke-width="0.85"/>
<line x1="668" y1="325.7" x2="668" y2="358.9" stroke="#222" stroke-width="0.85"/>
<line x1="507.3" y1="337.8" x2="547.6" y2="337.8" stroke="#333" stroke-width="0.8"/>
<polygon points="506.8,337.8 508.5,336.87 508.5,338.74" fill="#333"/>
<polygon points="548.1,337.8 546.4,336.87 546.4,338.74" fill="#333"/>
<line x1="548.6" y1="337.8" x2="667.5" y2="337.8" stroke="#333" stroke-width="0.8"/>
<polygon points="548.1,337.8 549.8,336.87 549.8,338.74" fill="#333"/>
<polygon points="668,337.8 666.3,336.87 666.3,338.74" fill="#333"/>
<text x="527.5" y="335.6" font-size="6.6" fill="#1f78c4" text-anchor="middle">-C3H4O</text>
<text x="606.7" y="335.6" font-size="6.6" fill="#1f78c4" text-anchor="middle">-C6H10O5</text>
<text x="514" y="343.7" font-size="6.6" fill="#222" text-anchor="middle">-56</text>
<line x1="521.6" y1="344.9" x2="548.1" y2="344.9" stroke="#333" stroke-width="0.7"/>
<line x1="521.6" y1="338.6" x2="521.6" y2="350.7" stroke="#333" stroke-width="0.85"/>
<line x1="534.85" y1="338.6" x2="534.85" y2="350.7" stroke="#333" stroke-width="0.85"/>
<line x1="548.1" y1="338.6" x2="548.1" y2="350.7" stroke="#333" stroke-width="0.85"/>
<text x="528.43" y="344.7" font-size="6.4" fill="#222" text-anchor="middle">-18</text>
<text x="541.68" y="344.7" font-size="6.4" fill="#222" text-anchor="middle">-18</text>
<line x1="521.6" y1="339.2" x2="521.6" y2="358.9" stroke="#222" stroke-width="0.85"/>
<text x="535.2" y="357.3" font-size="6.6" fill="#1f78c4" text-anchor="middle">-2×H2O</text>
<text x="599.2" y="343.7" font-size="6.6" fill="#222" text-anchor="middle">-162</text>
<line x1="614.8" y1="344.9" x2="668" y2="344.9" stroke="#333" stroke-width="0.7"/>
<line x1="614.8" y1="338.6" x2="614.8" y2="350.7" stroke="#333" stroke-width="0.85"/>
<line x1="628.1" y1="338.6" x2="628.1" y2="350.7" stroke="#333" stroke-width="0.85"/>
<line x1="641.4" y1="338.6" x2="641.4" y2="350.7" stroke="#333" stroke-width="0.85"/>
<line x1="654.7" y1="338.6" x2="654.7" y2="350.7" stroke="#333" stroke-width="0.85"/>
<line x1="668" y1="338.6" x2="668" y2="350.7" stroke="#333" stroke-width="0.85"/>
<text x="621.65" y="344.7" font-size="6.4" fill="#222" text-anchor="middle">-18</text>
<text x="634.95" y="344.7" font-size="6.4" fill="#222" text-anchor="middle">-18</text>
<text x="648.25" y="344.7" font-size="6.4" fill="#222" text-anchor="middle">-18</text>
<text x="661.55" y="344.7" font-size="6.4" fill="#222" text-anchor="middle">-18</text>
<line x1="614.8" y1="339.2" x2="614.8" y2="358.9" stroke="#222" stroke-width="0.85"/>
<text x="640.7" y="357.3" font-size="6.6" fill="#1f78c4" text-anchor="middle">-4×H2O</text>
<text x="0" y="0" transform="translate(-0.1 392.6) scale(1 1.28)" font-size="9.2" fill="#111">C</text>
<rect x="31.5" y="388.6" width="104" height="35.5" fill="white" stroke="#333" stroke-width="0.8"/>
<text x="35.2" y="396.2" font-size="6.8" fill="#1a1a1a">Name: PG-Archaeol (20:0_25:0)</text>
<text x="35.2" y="404.05" font-size="6.8" fill="#1a1a1a">Exact Mass: 876.7547</text>
<text x="35.2" y="411.9" font-size="6.8" fill="#1a1a1a">Formula: C<tspan font-size="4.2" baseline-shift="-1.3">51</tspan>H<tspan font-size="4.2" baseline-shift="-1.3">105</tspan>O<tspan font-size="4.2" baseline-shift="-1.3">8</tspan>P</text>
<text x="35.2" y="419.75" font-size="6.8" fill="#1a1a1a">Adduct type: [M+H]<tspan font-size="4.2" baseline-shift="2.6">+</tspan>; [M+NH<tspan font-size="4.2" baseline-shift="-1.3">4</tspan>]<tspan font-size="4.2" baseline-shift="2.6">+</tspan></text>
<text x="158.3" y="410.7" font-size="6.4" fill="#1a1a1a" text-anchor="middle">HO</text>
<polyline points="163.2,408.6 167.7,412.3 173.6,408.3 178.7,412.3 183.4,408.8" fill="none" stroke="#1c1c1c" stroke-width="0.75" stroke-linejoin="round"/>
<line x1="173.6" y1="408.3" x2="173.6" y2="405.6" stroke="#1c1c1c" stroke-width="0.8"/>
<text x="176.2" y="404.9" font-size="6.4" fill="#1a1a1a" text-anchor="middle">OH</text>
<text x="186.2" y="410.3" font-size="6.4" fill="#1a1a1a" text-anchor="middle">O</text>
<line x1="188.8" y1="408" x2="193.6" y2="408" stroke="#1c1c1c" stroke-width="0.8"/>
<text x="196.2" y="410.9" font-size="6.4" fill="#1a1a1a" text-anchor="middle">P</text>
<line x1="195.4" y1="405" x2="195.4" y2="398.2" stroke="#1c1c1c" stroke-width="0.8"/>
<line x1="197.2" y1="405" x2="197.2" y2="398.2" stroke="#1c1c1c" stroke-width="0.8"/>
<text x="196.3" y="395.6" font-size="6.4" fill="#1a1a1a" text-anchor="middle">O</text>
<line x1="196.3" y1="411.8" x2="196.3" y2="416.6" stroke="#1c1c1c" stroke-width="0.8"/>
<text x="198.6" y="422.9" font-size="6.4" fill="#1a1a1a" text-anchor="middle">OH</text>
<line x1="199" y1="408" x2="204.6" y2="408" stroke="#1c1c1c" stroke-width="0.8"/>
<text x="207.2" y="410.3" font-size="6.4" fill="#1a1a1a" text-anchor="middle">O</text>
<polyline points="209.8,407.4 215.9,404.6 221.6,407.8 224,405" fill="none" stroke="#1c1c1c" stroke-width="0.75" stroke-linejoin="round"/>
<text x="226.1" y="405.1" font-size="6.4" fill="#1a1a1a" text-anchor="middle">O</text>
<line x1="215.9" y1="404.6" x2="216.4" y2="413" stroke="#1c1c1c" stroke-width="0.8"/>
<line x1="216.4" y1="413" x2="221.6" y2="417.8" stroke="#1c1c1c" stroke-width="0.8"/>
<text x="224" y="421.9" font-size="6.4" fill="#1a1a1a" text-anchor="middle">O</text>
<polyline points="228.2,404.7 231.3,407.4 235.5,404.7 239.7,407.4 243.9,404.7 248.1,407.4 252.3,404.7 256.5,407.4 260.7,404.7 264.9,407.4 269.1,404.7 273.3,407.4 277.5,404.7 281.7,407.4 285.9,404.7 290.1,407.4 294.3,404.7 298.5,407.4 302.7,404.7 306.9,407.4 311.1,404.7" fill="none" stroke="#1c1c1c" stroke-width="0.9" stroke-linejoin="round"/>
<line x1="239.7" y1="407.4" x2="239.7" y2="412.6" stroke="#1c1c1c" stroke-width="0.9"/>
<line x1="256.5" y1="407.4" x2="256.5" y2="412.6" stroke="#1c1c1c" stroke-width="0.9"/>
<line x1="273.3" y1="407.4" x2="273.3" y2="412.6" stroke="#1c1c1c" stroke-width="0.9"/>
<line x1="290.1" y1="407.4" x2="290.1" y2="412.6" stroke="#1c1c1c" stroke-width="0.9"/>
<line x1="306.9" y1="407.4" x2="306.9" y2="412.6" stroke="#1c1c1c" stroke-width="0.9"/>
<polyline points="226.9,420.9 231,421.3 235.19,418.6 239.38,421.3 243.57,418.6 247.76,421.3 251.95,418.6 256.14,421.3 260.33,418.6 264.52,421.3 268.71,418.6 272.9,421.3 277.09,418.6 281.28,421.3 285.47,418.6 289.66,421.3 293.85,418.6" fill="none" stroke="#1c1c1c" stroke-width="0.9" stroke-linejoin="round"/>
<line x1="239.38" y1="421.3" x2="239.38" y2="426.4" stroke="#1c1c1c" stroke-width="0.9"/>
<line x1="256.14" y1="421.3" x2="256.14" y2="426.4" stroke="#1c1c1c" stroke-width="0.9"/>
<line x1="272.9" y1="421.3" x2="272.9" y2="426.4" stroke="#1c1c1c" stroke-width="0.9"/>
<line x1="289.66" y1="421.3" x2="289.66" y2="426.4" stroke="#1c1c1c" stroke-width="0.9"/>
<polyline points="211.5,413 211.5,387.9 192.6,387.9" fill="none" stroke="#18e818" stroke-width="0.95" stroke-linejoin="round" stroke-dasharray="4.2,1.4"/>
<polygon points="190.4,387.9 192.6,386.58 192.6,389.22" fill="#18e818"/>
<text x="160.9" y="389.7" font-size="6.6" fill="#18e818" font-weight="bold">173.0215</text>
<polyline points="229.8,414.5 229.8,395.2 218.8,395.2" fill="none" stroke="#1f78c4" stroke-width="0.9" stroke-linejoin="round" stroke-dasharray="4.2,1.3"/>
<polygon points="216.6,395.2 218.8,393.88 218.8,396.52" fill="#1f78c4"/>
<text x="233.8" y="395.2" font-size="6.6" fill="#1f78c4" font-weight="bold">527.3713</text>
<polyline points="182.3,404.3 182.3,424.7 190.4,424.7" fill="none" stroke="#2b2bf0" stroke-width="0.95" stroke-linejoin="round" stroke-dasharray="3.5,1.4"/>
<polygon points="192.6,424.7 190.4,423.38 190.4,426.02" fill="#2b2bf0"/>
<text x="151.7" y="427.3" font-size="6.6" fill="#2b2bf0" font-weight="bold">803.7258</text>
<line x1="31.4" y1="501.2" x2="336.6" y2="501.2" stroke="#a8a8a8" stroke-width="0.8"/>
<text x="35.4" y="439" font-size="6.7" fill="#1a1a1a">Experimental spectrum</text>
<text x="35.3" y="569.5" font-size="6.8" fill="#f81818"><tspan font-style="italic">In silico</tspan> spectrum</text>
<line x1="40.4" y1="501.2" x2="40.4" y2="489.9" stroke="#1c1c1c" stroke-width="0.8"/>
<line x1="45.5" y1="501.2" x2="45.5" y2="467.1" stroke="#1c1c1c" stroke-width="0.8"/>
<line x1="50.6" y1="501.2" x2="50.6" y2="450" stroke="#1c1c1c" stroke-width="0.8"/>
<line x1="54.9" y1="501.2" x2="54.9" y2="490" stroke="#1c1c1c" stroke-width="0.8"/>
<line x1="59.7" y1="501.2" x2="59.7" y2="486.2" stroke="#1c1c1c" stroke-width="0.8"/>
<line x1="64.9" y1="501.2" x2="64.9" y2="493.3" stroke="#1c1c1c" stroke-width="0.8"/>
<line x1="69.7" y1="501.2" x2="69.7" y2="491" stroke="#1c1c1c" stroke-width="0.8"/>
<line x1="74.8" y1="501.2" x2="74.8" y2="491" stroke="#1c1c1c" stroke-width="0.8"/>
<line x1="80.2" y1="501.2" x2="80.2" y2="484.7" stroke="#9a9a9a" stroke-width="0.8"/>
<line x1="84.5" y1="501.2" x2="84.5" y2="494" stroke="#1c1c1c" stroke-width="0.8"/>
<line x1="89.6" y1="501.2" x2="89.6" y2="495.4" stroke="#1c1c1c" stroke-width="0.8"/>
<line x1="94.5" y1="501.2" x2="94.5" y2="496.2" stroke="#1c1c1c" stroke-width="0.8"/>
<line x1="99.6" y1="501.2" x2="99.6" y2="498.5" stroke="#1c1c1c" stroke-width="0.8"/>
<line x1="103.8" y1="501.2" x2="103.8" y2="500" stroke="#1c1c1c" stroke-width="0.8"/>
<line x1="108.1" y1="501.2" x2="108.1" y2="500" stroke="#1c1c1c" stroke-width="0.8"/>
<line x1="112" y1="501.2" x2="112" y2="500.4" stroke="#1c1c1c" stroke-width="0.8"/>
<line x1="116" y1="501.2" x2="116" y2="500.6" stroke="#1c1c1c" stroke-width="0.8"/>
<line x1="138.4" y1="501.2" x2="138.4" y2="491" stroke="#1c1c1c" stroke-width="0.8"/>
<line x1="144.7" y1="501.2" x2="144.7" y2="497.5" stroke="#1c1c1c" stroke-width="0.8"/>
<line x1="163.2" y1="501.2" x2="163.2" y2="496.3" stroke="#1c1c1c" stroke-width="0.8"/>
<line x1="169.7" y1="501.2" x2="169.7" y2="498.5" stroke="#1c1c1c" stroke-width="0.8"/>
<line x1="178.3" y1="501.2" x2="178.3" y2="499.5" stroke="#1c1c1c" stroke-width="0.8"/>
<line x1="196.8" y1="501.2" x2="196.8" y2="498.5" stroke="#1c1c1c" stroke-width="0.8"/>
<line x1="204.5" y1="501.2" x2="204.5" y2="491.3" stroke="#1c1c1c" stroke-width="0.8"/>
<line x1="222.4" y1="501.2" x2="222.4" y2="499.5" stroke="#1c1c1c" stroke-width="0.8"/>
<line x1="228.5" y1="501.2" x2="228.5" y2="499.5" stroke="#1c1c1c" stroke-width="0.8"/>
<line x1="300.2" y1="501.2" x2="300.2" y2="500" stroke="#1c1c1c" stroke-width="0.8"/>
<line x1="325.8" y1="501.2" x2="325.8" y2="442.1" stroke="#1c1c1c" stroke-width="0.8"/>
<line x1="326.7" y1="501.2" x2="326.7" y2="473.4" stroke="#9a9a9a" stroke-width="0.8"/>
<line x1="49.1" y1="501.2" x2="49.1" y2="495.3" stroke="#111" stroke-width="0.8"/>
<line x1="54.7" y1="501.2" x2="54.7" y2="495.6" stroke="#111" stroke-width="0.8"/>
<line x1="59.7" y1="501.2" x2="59.7" y2="495.3" stroke="#111" stroke-width="0.8"/>
<line x1="64.7" y1="501.2" x2="64.7" y2="497.5" stroke="#111" stroke-width="0.8"/>
<line x1="68.8" y1="501.2" x2="68.8" y2="498.3" stroke="#111" stroke-width="0.8"/>
<line x1="74.7" y1="501.2" x2="74.7" y2="497.5" stroke="#111" stroke-width="0.8"/>
<line x1="78.7" y1="501.2" x2="78.7" y2="495.5" stroke="#111" stroke-width="0.8"/>
<line x1="44.8" y1="501.2" x2="44.8" y2="499.5" stroke="#111" stroke-width="0.8"/>
<line x1="40.3" y1="501.2" x2="40.3" y2="499.8" stroke="#111" stroke-width="0.8"/>
<line x1="40.4" y1="501.2" x2="40.4" y2="518.3" stroke="#ee3b3b" stroke-width="0.8"/>
<line x1="45.5" y1="501.2" x2="45.5" y2="534.5" stroke="#ee3b3b" stroke-width="0.8"/>
<line x1="50.6" y1="501.2" x2="50.6" y2="561" stroke="#ee3b3b" stroke-width="0.8"/>
<line x1="54.9" y1="501.2" x2="54.9" y2="503.5" stroke="#ee3b3b" stroke-width="0.8"/>
<line x1="59.7" y1="501.2" x2="59.7" y2="506" stroke="#ee3b3b" stroke-width="0.8"/>
<line x1="64.9" y1="501.2" x2="64.9" y2="506.5" stroke="#ee3b3b" stroke-width="0.8"/>
<line x1="69.7" y1="501.2" x2="69.7" y2="510.3" stroke="#ee3b3b" stroke-width="0.8"/>
<line x1="74.8" y1="501.2" x2="74.8" y2="511.5" stroke="#ee3b3b" stroke-width="0.8"/>
<line x1="81.1" y1="501.2" x2="81.1" y2="520.3" stroke="#ee3b3b" stroke-width="0.8"/>
<line x1="84.5" y1="501.2" x2="84.5" y2="507" stroke="#ee3b3b" stroke-width="0.8"/>
<line x1="89.6" y1="501.2" x2="89.6" y2="505.5" stroke="#ee3b3b" stroke-width="0.8"/>
<line x1="94.5" y1="501.2" x2="94.5" y2="504.5" stroke="#ee3b3b" stroke-width="0.8"/>
<line x1="99.6" y1="501.2" x2="99.6" y2="504" stroke="#ee3b3b" stroke-width="0.8"/>
<line x1="138.4" y1="501.2" x2="138.4" y2="508" stroke="#ee3b3b" stroke-width="0.8"/>
<line x1="144.7" y1="501.2" x2="144.7" y2="505" stroke="#ee3b3b" stroke-width="0.8"/>
<line x1="178.3" y1="501.2" x2="178.3" y2="504.6" stroke="#ee3b3b" stroke-width="0.8"/>
<line x1="204.5" y1="501.2" x2="204.5" y2="514.6" stroke="#ee3b3b" stroke-width="0.8"/>
<line x1="300.2" y1="501.2" x2="300.2" y2="503.5" stroke="#ee3b3b" stroke-width="0.8"/>
<line x1="325.8" y1="501.2" x2="325.8" y2="520.3" stroke="#ee3b3b" stroke-width="0.8"/>
<line x1="56.3" y1="501.2" x2="56.3" y2="502.58" stroke="#f6a3a3" stroke-width="0.7"/>
<line x1="61.1" y1="501.2" x2="61.1" y2="504.08" stroke="#f6a3a3" stroke-width="0.7"/>
<line x1="66.3" y1="501.2" x2="66.3" y2="504.38" stroke="#f6a3a3" stroke-width="0.7"/>
<line x1="71.1" y1="501.2" x2="71.1" y2="506.66" stroke="#f6a3a3" stroke-width="0.7"/>
<line x1="76.2" y1="501.2" x2="76.2" y2="507.38" stroke="#f6a3a3" stroke-width="0.7"/>
<line x1="82.5" y1="501.2" x2="82.5" y2="512.66" stroke="#f6a3a3" stroke-width="0.7"/>
<line x1="85.9" y1="501.2" x2="85.9" y2="504.68" stroke="#f6a3a3" stroke-width="0.7"/>
<line x1="91" y1="501.2" x2="91" y2="503.78" stroke="#f6a3a3" stroke-width="0.7"/>
<line x1="95.9" y1="501.2" x2="95.9" y2="503.18" stroke="#f6a3a3" stroke-width="0.7"/>
<text x="53.9" y="448.6" font-size="6.8" fill="#111" font-weight="bold" text-anchor="middle">85.1034</text>
<text x="82.8" y="481.2" font-size="6.8" fill="#111" font-weight="bold" transform="rotate(-90 82.8 481.2)">173.026</text>
<text x="140.3" y="486.8" font-size="6.8" fill="#111" font-weight="bold" transform="rotate(-90 140.3 486.8)">339.3712</text>
<text x="147.5" y="494.9" font-size="6.8" fill="#111" font-weight="bold" transform="rotate(-90 147.5 494.9)">357.3816</text>
<text x="180.3" y="497.3" font-size="6.8" fill="#111" font-weight="bold" transform="rotate(-90 180.3 497.3)">453.3449</text>
<text x="205.2" y="489.3" font-size="6.8" fill="#111" font-weight="bold" transform="rotate(-90 205.2 489.3)">527.384</text>
<text x="301.5" y="497.2" font-size="6.8" fill="#111" font-weight="bold" transform="rotate(-90 301.5 497.2)">803.7422</text>
<text x="336.4" y="439.2" font-size="6.8" fill="#111" font-weight="bold" text-anchor="end">877.7822</text>
<polyline points="144.7,507.5 144.7,520.3 178.3,520.3 178.3,507.5" fill="none" stroke="#1f78c4" stroke-width="0.9" stroke-linejoin="round" stroke-dasharray="4.2,1.3"/>
<polyline points="178.3,520.3 204.5,520.3 204.5,514.5" fill="none" stroke="#1f78c4" stroke-width="0.9" stroke-linejoin="round" stroke-dasharray="4.2,1.3"/>
<text x="161.2" y="518.8" font-size="6.6" fill="#1f78c4" font-weight="bold" text-anchor="middle">-PHO3</text>
<text x="191.6" y="528.3" font-size="6.6" fill="#1f78c4" font-weight="bold" text-anchor="middle">-C3H6O2</text>
<polyline points="300.2,504 300.2,513.8 325.3,513.8" fill="none" stroke="#1f78c4" stroke-width="0.9" stroke-linejoin="round" stroke-dasharray="4.2,1.3"/>
<text x="310.5" y="521.2" font-size="6.6" fill="#1f78c4" font-weight="bold" text-anchor="middle">-C3H6O2</text>
<text x="323.2" y="528" font-size="6.6" fill="#1f78c4" font-weight="bold" text-anchor="middle">[M+H]<tspan font-size="4.2" baseline-shift="2.6">+</tspan></text>
<rect x="31.4" y="430" width="305.2" height="142.4" fill="none" stroke="#383838" stroke-width="1.15"/>
<line x1="29.8" y1="442.6" x2="31.4" y2="442.6" stroke="#1c1c1c" stroke-width="0.8"/>
<text x="0" y="0" transform="translate(28.8 445.5) scale(1 1.15)" font-size="8" fill="#222" text-anchor="end">100</text>
<line x1="29.8" y1="471.9" x2="31.4" y2="471.9" stroke="#1c1c1c" stroke-width="0.8"/>
<text x="0" y="0" transform="translate(28.8 474.8) scale(1 1.15)" font-size="8" fill="#222" text-anchor="end">50</text>
<line x1="29.8" y1="501.2" x2="31.4" y2="501.2" stroke="#1c1c1c" stroke-width="0.8"/>
<text x="0" y="0" transform="translate(28.8 504.1) scale(1 1.15)" font-size="8" fill="#222" text-anchor="end">0</text>
<line x1="29.8" y1="531.1" x2="31.4" y2="531.1" stroke="#1c1c1c" stroke-width="0.8"/>
<text x="0" y="0" transform="translate(28.8 534) scale(1 1.15)" font-size="8" fill="#222" text-anchor="end">−50</text>
<line x1="29.8" y1="561" x2="31.4" y2="561" stroke="#1c1c1c" stroke-width="0.8"/>
<text x="0" y="0" transform="translate(28.8 563.9) scale(1 1.15)" font-size="8" fill="#222" text-anchor="end">−100</text>
<line x1="107.5" y1="572.4" x2="107.5" y2="574.2" stroke="#1c1c1c" stroke-width="0.8"/>
<text x="0" y="0" transform="translate(107.5 582.2) scale(1 1.15)" font-size="8" fill="#222" text-anchor="middle">250</text>
<line x1="194.8" y1="572.4" x2="194.8" y2="574.2" stroke="#1c1c1c" stroke-width="0.8"/>
<text x="0" y="0" transform="translate(194.8 582.2) scale(1 1.15)" font-size="8" fill="#222" text-anchor="middle">500</text>
<line x1="281.6" y1="572.4" x2="281.6" y2="574.2" stroke="#1c1c1c" stroke-width="0.8"/>
<text x="0" y="0" transform="translate(281.6 582.2) scale(1 1.15)" font-size="8" fill="#222" text-anchor="middle">750</text>
<text x="184.2" y="592.2" font-size="9.8" fill="#222" text-anchor="middle" font-style="italic">m/z</text>
<text x="9" y="502.5" font-size="9.5" fill="#222" text-anchor="middle" transform="rotate(-90 9 502.5)">Relative Intensity (%)</text>
<text x="0" y="0" transform="translate(344.6 392.6) scale(1 1.28)" font-size="9.2" fill="#111">D</text>
<rect x="379" y="389.4" width="121.8" height="35.2" fill="white" stroke="#333" stroke-width="0.8"/>
<text x="382.2" y="396.9" font-size="6.8" fill="#1a1a1a">Name: DGD-PA (20:0_20:0_20:0_20:0)</text>
<text x="382.2" y="404.85" font-size="6.8" fill="#1a1a1a">Exact Mass: 1691.4081</text>
<text x="382.2" y="412.8" font-size="6.8" fill="#1a1a1a">Formula: C<tspan font-size="4.2" baseline-shift="-1.3">99</tspan>H<tspan font-size="4.2" baseline-shift="-1.3">197</tspan>O<tspan font-size="4.2" baseline-shift="-1.3">18</tspan>P</text>
<text x="382.2" y="420.75" font-size="6.8" fill="#1a1a1a">Adduct type: [M+H]<tspan font-size="4.2" baseline-shift="2.6">+</tspan>; [M+NH<tspan font-size="4.2" baseline-shift="-1.3">4</tspan>]<tspan font-size="4.2" baseline-shift="2.6">+</tspan></text>
<polyline points="502.8,399.5 506.3,397.3 509.8,399.5 513.3,397.3 516.8,399.5 520.3,397.3 523.8,399.5 527.3,397.3 530.8,399.5 534.3,397.3 537.8,399.5 541.3,397.3 544.8,399.5 548.3,397.3 551.8,399.5 555.3,397.3 558,398.6" fill="none" stroke="#1c1c1c" stroke-width="0.9" stroke-linejoin="round"/>
<line x1="506.3" y1="397.3" x2="506.3" y2="393.1" stroke="#1c1c1c" stroke-width="0.9"/>
<line x1="520.3" y1="397.3" x2="520.3" y2="393.1" stroke="#1c1c1c" stroke-width="0.9"/>
<line x1="534.3" y1="397.3" x2="534.3" y2="393.1" stroke="#1c1c1c" stroke-width="0.9"/>
<line x1="548.3" y1="397.3" x2="548.3" y2="393.1" stroke="#1c1c1c" stroke-width="0.9"/>
<polyline points="510.5,404.2 514,406.3 517.5,404.2 521,406.3 524.5,404.2 528,406.3 531.5,404.2 535,406.3 538.5,404.2 542,406.3 545.5,404.2 549,406.3 552.5,404.2 556,406.3 559.5,404.2 563,406.3 566,405.2" fill="none" stroke="#1c1c1c" stroke-width="0.9" stroke-linejoin="round"/>
<line x1="514" y1="406.3" x2="514" y2="410.9" stroke="#1c1c1c" stroke-width="0.9"/>
<line x1="528" y1="406.3" x2="528" y2="410.9" stroke="#1c1c1c" stroke-width="0.9"/>
<line x1="542" y1="406.3" x2="542" y2="410.9" stroke="#1c1c1c" stroke-width="0.9"/>
<line x1="556" y1="406.3" x2="556" y2="410.9" stroke="#1c1c1c" stroke-width="0.9"/>
<text x="560.5" y="400.67" font-size="6.3" fill="#1a1a1a" text-anchor="middle">O</text>
<polyline points="563.1,398.4 568.4,400.6 572.3,398.4 573.8,398.8" fill="none" stroke="#1c1c1c" stroke-width="0.9" stroke-linejoin="round"/>
<line x1="568.4" y1="400.6" x2="568.4" y2="402.6" stroke="#1c1c1c" stroke-width="0.9"/>
<text x="568.6" y="407.27" font-size="6.3" fill="#1a1a1a" text-anchor="middle">O</text>
<text x="576.3" y="401.57" font-size="6.3" fill="#1a1a1a" text-anchor="middle">O</text>
<polyline points="578.6,400.6 579.8,401.2 580.2,406.3 583.3,408.5 587.7,406.3 588.5,401.9 586.6,400" fill="none" stroke="#1c1c1c" stroke-width="0.9" stroke-linejoin="round"/>
<text x="584.2" y="401.07" font-size="6.3" fill="#1a1a1a" text-anchor="middle">O</text>
<line x1="581.8" y1="400" x2="579.8" y2="401.2" stroke="#1c1c1c" stroke-width="0.9"/>
<text x="574.5" y="411.57" font-size="6.3" fill="#1a1a1a" text-anchor="middle">O</text>
<line x1="576.6" y1="408.6" x2="580.2" y2="406.3" stroke="#1c1c1c" stroke-width="0.9"/>
<polyline points="574.5,411.6 575,413.7 577.2,414.8" fill="none" stroke="#1c1c1c" stroke-width="0.9" stroke-linejoin="round"/>
<text x="578.9" y="417.77" font-size="6.3" fill="#1a1a1a" text-anchor="middle">O</text>
<polyline points="578.9,417.8 578.4,420.2 574.5,422 571,420.3 571,415.9 575,413.7" fill="none" stroke="#1c1c1c" stroke-width="0.9" stroke-linejoin="round"/>
<text x="563.1" y="415.97" font-size="6.3" fill="#1a1a1a" text-anchor="middle">HO</text>
<line x1="567" y1="414.2" x2="571" y2="415.9" stroke="#1c1c1c" stroke-width="0.9"/>
<text x="563.1" y="423.47" font-size="6.3" fill="#1a1a1a" text-anchor="middle">HO</text>
<line x1="567" y1="421" x2="571" y2="420.3" stroke="#1c1c1c" stroke-width="0.9"/>
<text x="576.7" y="429.97" font-size="6.3" fill="#1a1a1a" text-anchor="middle">OH</text>
<line x1="574.5" y1="422" x2="574.8" y2="424.8" stroke="#1c1c1c" stroke-width="0.9"/>
<polyline points="578.4,420.2 582.4,422 585.2,419.8" fill="none" stroke="#1c1c1c" stroke-width="0.9" stroke-linejoin="round"/>
<text x="589.4" y="421.27" font-size="6.3" fill="#1a1a1a" text-anchor="middle">OH</text>
<line x1="583.3" y1="408.5" x2="584.6" y2="410.2" stroke="#1c1c1c" stroke-width="0.9"/>
<text x="586.8" y="415.07" font-size="6.3" fill="#1a1a1a" text-anchor="middle">OH</text>
<line x1="587.7" y1="406.3" x2="591.6" y2="408.4" stroke="#1c1c1c" stroke-width="0.9"/>
<text x="596.4" y="410.77" font-size="6.3" fill="#1a1a1a" text-anchor="middle">OH</text>
<polyline points="588.5,401.9 592,400.3 593.2,400.8" fill="none" stroke="#1c1c1c" stroke-width="0.9" stroke-linejoin="round"/>
<text x="595.5" y="403.77" font-size="6.3" fill="#1a1a1a" text-anchor="middle">O</text>
<line x1="597.8" y1="401" x2="601.2" y2="400" stroke="#1c1c1c" stroke-width="0.9"/>
<text x="603.3" y="401.77" font-size="6.3" fill="#1a1a1a" text-anchor="middle">P</text>
<line x1="602.6" y1="396.4" x2="602.6" y2="393" stroke="#1c1c1c" stroke-width="0.9"/>
<line x1="604" y1="396.4" x2="604" y2="393" stroke="#1c1c1c" stroke-width="0.9"/>
<text x="603.3" y="391.87" font-size="6.3" fill="#1a1a1a" text-anchor="middle">O</text>
<line x1="603.8" y1="402" x2="604.6" y2="405" stroke="#1c1c1c" stroke-width="0.9"/>
<text x="608.1" y="410.27" font-size="6.3" fill="#1a1a1a" text-anchor="middle">OH</text>
<line x1="605.6" y1="400.1" x2="609" y2="400.6" stroke="#1c1c1c" stroke-width="0.9"/>
<text x="611.2" y="403.07" font-size="6.3" fill="#1a1a1a" text-anchor="middle">O</text>
<polyline points="613.4,401 616,399.7 620,401.5 623.5,399.7 625.2,399.9" fill="none" stroke="#1c1c1c" stroke-width="0.9" stroke-linejoin="round"/>
<line x1="620" y1="401.5" x2="619.6" y2="404.4" stroke="#1c1c1c" stroke-width="0.9"/>
<text x="627.4" y="402.37" font-size="6.3" fill="#1a1a1a" text-anchor="middle">O</text>
<text x="619.1" y="408.97" font-size="6.3" fill="#1a1a1a" text-anchor="middle">O</text>
<polyline points="629.6,400.1 634.55,401.5 638.1,399.3 641.65,401.5 645.2,399.3 648.75,401.5 652.3,399.3 655.85,401.5 659.4,399.3 662.95,401.5 666.5,399.3 670.05,401.5 673.6,399.3 677.15,401.5 680.7,399.3 684.25,401.5" fill="none" stroke="#1c1c1c" stroke-width="0.9" stroke-linejoin="round"/>
<line x1="638.1" y1="399.3" x2="638.1" y2="395" stroke="#1c1c1c" stroke-width="0.9"/>
<line x1="652.3" y1="399.3" x2="652.3" y2="395" stroke="#1c1c1c" stroke-width="0.9"/>
<line x1="666.5" y1="399.3" x2="666.5" y2="395" stroke="#1c1c1c" stroke-width="0.9"/>
<line x1="680.7" y1="399.3" x2="680.7" y2="395" stroke="#1c1c1c" stroke-width="0.9"/>
<polyline points="621.3,407.6 623.5,408 627,405.8 630.5,408 634,405.8 637.5,408 641,405.8 644.5,408 648,405.8 651.5,408 655,405.8 658.5,408 662,405.8 665.5,408 669,405.8 672.5,408 676,405.8" fill="none" stroke="#1c1c1c" stroke-width="0.9" stroke-linejoin="round"/>
<line x1="630.5" y1="408" x2="630.5" y2="412" stroke="#1c1c1c" stroke-width="0.9"/>
<line x1="644.5" y1="408" x2="644.5" y2="412" stroke="#1c1c1c" stroke-width="0.9"/>
<line x1="658.5" y1="408" x2="658.5" y2="412" stroke="#1c1c1c" stroke-width="0.9"/>
<line x1="672.5" y1="408" x2="672.5" y2="412" stroke="#1c1c1c" stroke-width="0.9"/>
<polyline points="579.6,409.3 579.6,388.3 586.6,388.3" fill="none" stroke="#1f78c4" stroke-width="0.9" stroke-linejoin="round"/>
<polygon points="589,388.3 586.6,386.86 586.6,389.74" fill="#1f78c4"/>
<text x="550.4" y="388.9" font-size="6.6" fill="#1f78c4" font-weight="bold">859.6791</text>
<polyline points="592.5,405.4 592.5,386.4 600.6,386.4" fill="none" stroke="#18e818" stroke-width="0.95" stroke-linejoin="round" stroke-dasharray="4.2,1.4"/>
<polygon points="603.2,386.4 600.8,384.96 600.8,387.84" fill="#18e818"/>
<text x="605.5" y="387.4" font-size="6.6" fill="#18e818" font-weight="bold">733.6475</text>
<line x1="379.1" y1="503.2" x2="684.2" y2="503.2" stroke="#a8a8a8" stroke-width="0.8"/>
<text x="385" y="440.6" font-size="6.7" fill="#1a1a1a">Experimental spectrum</text>
<text x="384.8" y="570.8" font-size="6.8" fill="#f81818"><tspan font-style="italic">In silico</tspan> spectrum</text>
<line x1="381.3" y1="503.2" x2="381.3" y2="499.5" stroke="#1c1c1c" stroke-width="0.8"/>
<line x1="383.2" y1="503.2" x2="383.2" y2="498.5" stroke="#1c1c1c" stroke-width="0.8"/>
<line x1="385.5" y1="503.2" x2="385.5" y2="493.8" stroke="#1c1c1c" stroke-width="0.8"/>
<line x1="387.8" y1="503.2" x2="387.8" y2="500" stroke="#1c1c1c" stroke-width="0.8"/>
<line x1="390.6" y1="503.2" x2="390.6" y2="498.5" stroke="#1c1c1c" stroke-width="0.8"/>
<line x1="395.5" y1="503.2" x2="395.5" y2="497" stroke="#1c1c1c" stroke-width="0.8"/>
<line x1="398.3" y1="503.2" x2="398.3" y2="498.5" stroke="#1c1c1c" stroke-width="0.8"/>
<line x1="400.6" y1="503.2" x2="400.6" y2="499.5" stroke="#1c1c1c" stroke-width="0.8"/>
<line x1="403.2" y1="503.2" x2="403.2" y2="495.8" stroke="#1c1c1c" stroke-width="0.8"/>
<line x1="406" y1="503.2" x2="406" y2="499.2" stroke="#1c1c1c" stroke-width="0.8"/>
<line x1="408.3" y1="503.2" x2="408.3" y2="500.5" stroke="#1c1c1c" stroke-width="0.8"/>
<line x1="415.4" y1="503.2" x2="415.4" y2="499.2" stroke="#1c1c1c" stroke-width="0.8"/>
<line x1="431.6" y1="503.2" x2="431.6" y2="487.6" stroke="#1c1c1c" stroke-width="0.8"/>
<line x1="435.3" y1="503.2" x2="435.3" y2="496.3" stroke="#1c1c1c" stroke-width="0.8"/>
<line x1="449.5" y1="503.2" x2="449.5" y2="496.3" stroke="#1c1c1c" stroke-width="0.8"/>
<line x1="452.4" y1="503.2" x2="452.4" y2="497.6" stroke="#1c1c1c" stroke-width="0.8"/>
<line x1="452.8" y1="503.2" x2="452.8" y2="497.5" stroke="#1c1c1c" stroke-width="0.8"/>
<line x1="472.2" y1="503.2" x2="472.2" y2="499.5" stroke="#1c1c1c" stroke-width="0.8"/>
<line x1="475.6" y1="503.2" x2="475.6" y2="501.2" stroke="#1c1c1c" stroke-width="0.8"/>
<line x1="485.6" y1="503.2" x2="485.6" y2="500.4" stroke="#1c1c1c" stroke-width="0.8"/>
<line x1="503.5" y1="503.2" x2="503.5" y2="483.3" stroke="#1c1c1c" stroke-width="0.8"/>
<line x1="511.2" y1="503.2" x2="511.2" y2="501.2" stroke="#1c1c1c" stroke-width="0.8"/>
<line x1="523.1" y1="503.2" x2="523.1" y2="476.2" stroke="#9a9a9a" stroke-width="0.8"/>
<line x1="526.2" y1="503.2" x2="526.2" y2="444.3" stroke="#1c1c1c" stroke-width="0.8"/>
<line x1="529.7" y1="503.2" x2="529.7" y2="493.8" stroke="#1c1c1c" stroke-width="0.8"/>
<line x1="552.4" y1="503.2" x2="552.4" y2="500.4" stroke="#1c1c1c" stroke-width="0.8"/>
<line x1="648.1" y1="503.2" x2="648.1" y2="502.2" stroke="#1c1c1c" stroke-width="0.8"/>
<line x1="677.4" y1="503.2" x2="677.4" y2="502.2" stroke="#1c1c1c" stroke-width="0.8"/>
<line x1="401.2" y1="503.2" x2="401.2" y2="511.8" stroke="#ee3b3b" stroke-width="0.8"/>
<line x1="431.6" y1="503.2" x2="431.6" y2="511.8" stroke="#ee3b3b" stroke-width="0.8"/>
<line x1="435.3" y1="503.2" x2="435.3" y2="509" stroke="#ee3b3b" stroke-width="0.8"/>
<line x1="442.4" y1="503.2" x2="442.4" y2="509" stroke="#ee3b3b" stroke-width="0.8"/>
<line x1="452.4" y1="503.2" x2="452.4" y2="510.4" stroke="#ee3b3b" stroke-width="0.8"/>
<line x1="472.2" y1="503.2" x2="472.2" y2="507" stroke="#ee3b3b" stroke-width="0.8"/>
<line x1="475.6" y1="503.2" x2="475.6" y2="506.5" stroke="#ee3b3b" stroke-width="0.8"/>
<line x1="478.4" y1="503.2" x2="478.4" y2="506" stroke="#ee3b3b" stroke-width="0.8"/>
<line x1="503.5" y1="503.2" x2="503.5" y2="521.2" stroke="#ee3b3b" stroke-width="0.8"/>
<line x1="523.1" y1="503.2" x2="523.1" y2="542.2" stroke="#f6a3a3" stroke-width="0.8"/>
<line x1="526.2" y1="503.2" x2="526.2" y2="563" stroke="#ee3b3b" stroke-width="0.8"/>
<line x1="529.7" y1="503.2" x2="529.7" y2="514.6" stroke="#ee3b3b" stroke-width="0.8"/>
<line x1="552.4" y1="503.2" x2="552.4" y2="509" stroke="#ee3b3b" stroke-width="0.8"/>
<text x="505" y="481.9" font-size="6.8" fill="#111" font-weight="bold" text-anchor="middle">733.6445</text>
<text x="528.5" y="441.8" font-size="6.8" fill="#111" font-weight="bold" text-anchor="middle">859.6746</text>
<text x="524" y="475.3" font-size="6.8" fill="#111" font-weight="bold" transform="rotate(-90 524 475.3)">841.6654</text>
<text x="650.4" y="501.7" font-size="6.8" fill="#111" font-weight="bold" transform="rotate(-90 650.4 501.7)">1530.2048</text>
<text x="679.7" y="501.7" font-size="6.8" fill="#111" font-weight="bold" transform="rotate(-90 679.7 501.7)">1692.4328</text>
<polyline points="648.6,504.2 648.6,518.4" fill="none" stroke="#1f78c4" stroke-width="0.9" stroke-linejoin="round" stroke-dasharray="4.2,1.3"/>
<polyline points="648.6,512.5 677.7,512.5 677.7,504.2" fill="none" stroke="#1f78c4" stroke-width="0.9" stroke-linejoin="round" stroke-dasharray="4.2,1.3"/>
<text x="663" y="510.1" font-size="6.6" fill="#1f78c4" font-weight="bold" text-anchor="middle">-Gly</text>
<text x="672.3" y="522.5" font-size="6.6" fill="#1f78c4" font-weight="bold" text-anchor="middle">[M+H]<tspan font-size="4.2" baseline-shift="2.6">+</tspan></text>
<rect x="379.1" y="432.1" width="305.1" height="142.1" fill="none" stroke="#383838" stroke-width="1.15"/>
<line x1="377.5" y1="444.3" x2="379.1" y2="444.3" stroke="#1c1c1c" stroke-width="0.8"/>
<text x="0" y="0" transform="translate(376.5 447.2) scale(1 1.15)" font-size="8" fill="#222" text-anchor="end">100</text>
<line x1="377.5" y1="473.9" x2="379.1" y2="473.9" stroke="#1c1c1c" stroke-width="0.8"/>
<text x="0" y="0" transform="translate(376.5 476.8) scale(1 1.15)" font-size="8" fill="#222" text-anchor="end">50</text>
<line x1="377.5" y1="503.2" x2="379.1" y2="503.2" stroke="#1c1c1c" stroke-width="0.8"/>
<text x="0" y="0" transform="translate(376.5 506.1) scale(1 1.15)" font-size="8" fill="#222" text-anchor="end">0</text>
<line x1="377.5" y1="532.5" x2="379.1" y2="532.5" stroke="#1c1c1c" stroke-width="0.8"/>
<text x="0" y="0" transform="translate(376.5 535.4) scale(1 1.15)" font-size="8" fill="#222" text-anchor="end">−50</text>
<line x1="377.5" y1="562.4" x2="379.1" y2="562.4" stroke="#1c1c1c" stroke-width="0.8"/>
<text x="0" y="0" transform="translate(376.5 565.3) scale(1 1.15)" font-size="8" fill="#222" text-anchor="end">−100</text>
<line x1="443" y1="574.2" x2="443" y2="576" stroke="#1c1c1c" stroke-width="0.8"/>
<text x="0" y="0" transform="translate(443 583.6) scale(1 1.15)" font-size="8" fill="#222" text-anchor="middle">400</text>
<line x1="515.4" y1="574.2" x2="515.4" y2="576" stroke="#1c1c1c" stroke-width="0.8"/>
<text x="0" y="0" transform="translate(515.4 583.6) scale(1 1.15)" font-size="8" fill="#222" text-anchor="middle">800</text>
<line x1="588.3" y1="574.2" x2="588.3" y2="576" stroke="#1c1c1c" stroke-width="0.8"/>
<text x="0" y="0" transform="translate(588.3 583.6) scale(1 1.15)" font-size="8" fill="#222" text-anchor="middle">1200</text>
<line x1="660.9" y1="574.2" x2="660.9" y2="576" stroke="#1c1c1c" stroke-width="0.8"/>
<text x="0" y="0" transform="translate(660.9 583.6) scale(1 1.15)" font-size="8" fill="#222" text-anchor="middle">1600</text>
<text x="531.5" y="593.5" font-size="9.8" fill="#222" text-anchor="middle" font-style="italic">m/z</text>
<text x="356.6" y="505" font-size="9.5" fill="#222" text-anchor="middle" transform="rotate(-90 356.6 505)">Relative Intensity (%)</text>
</svg>
</body></html>
